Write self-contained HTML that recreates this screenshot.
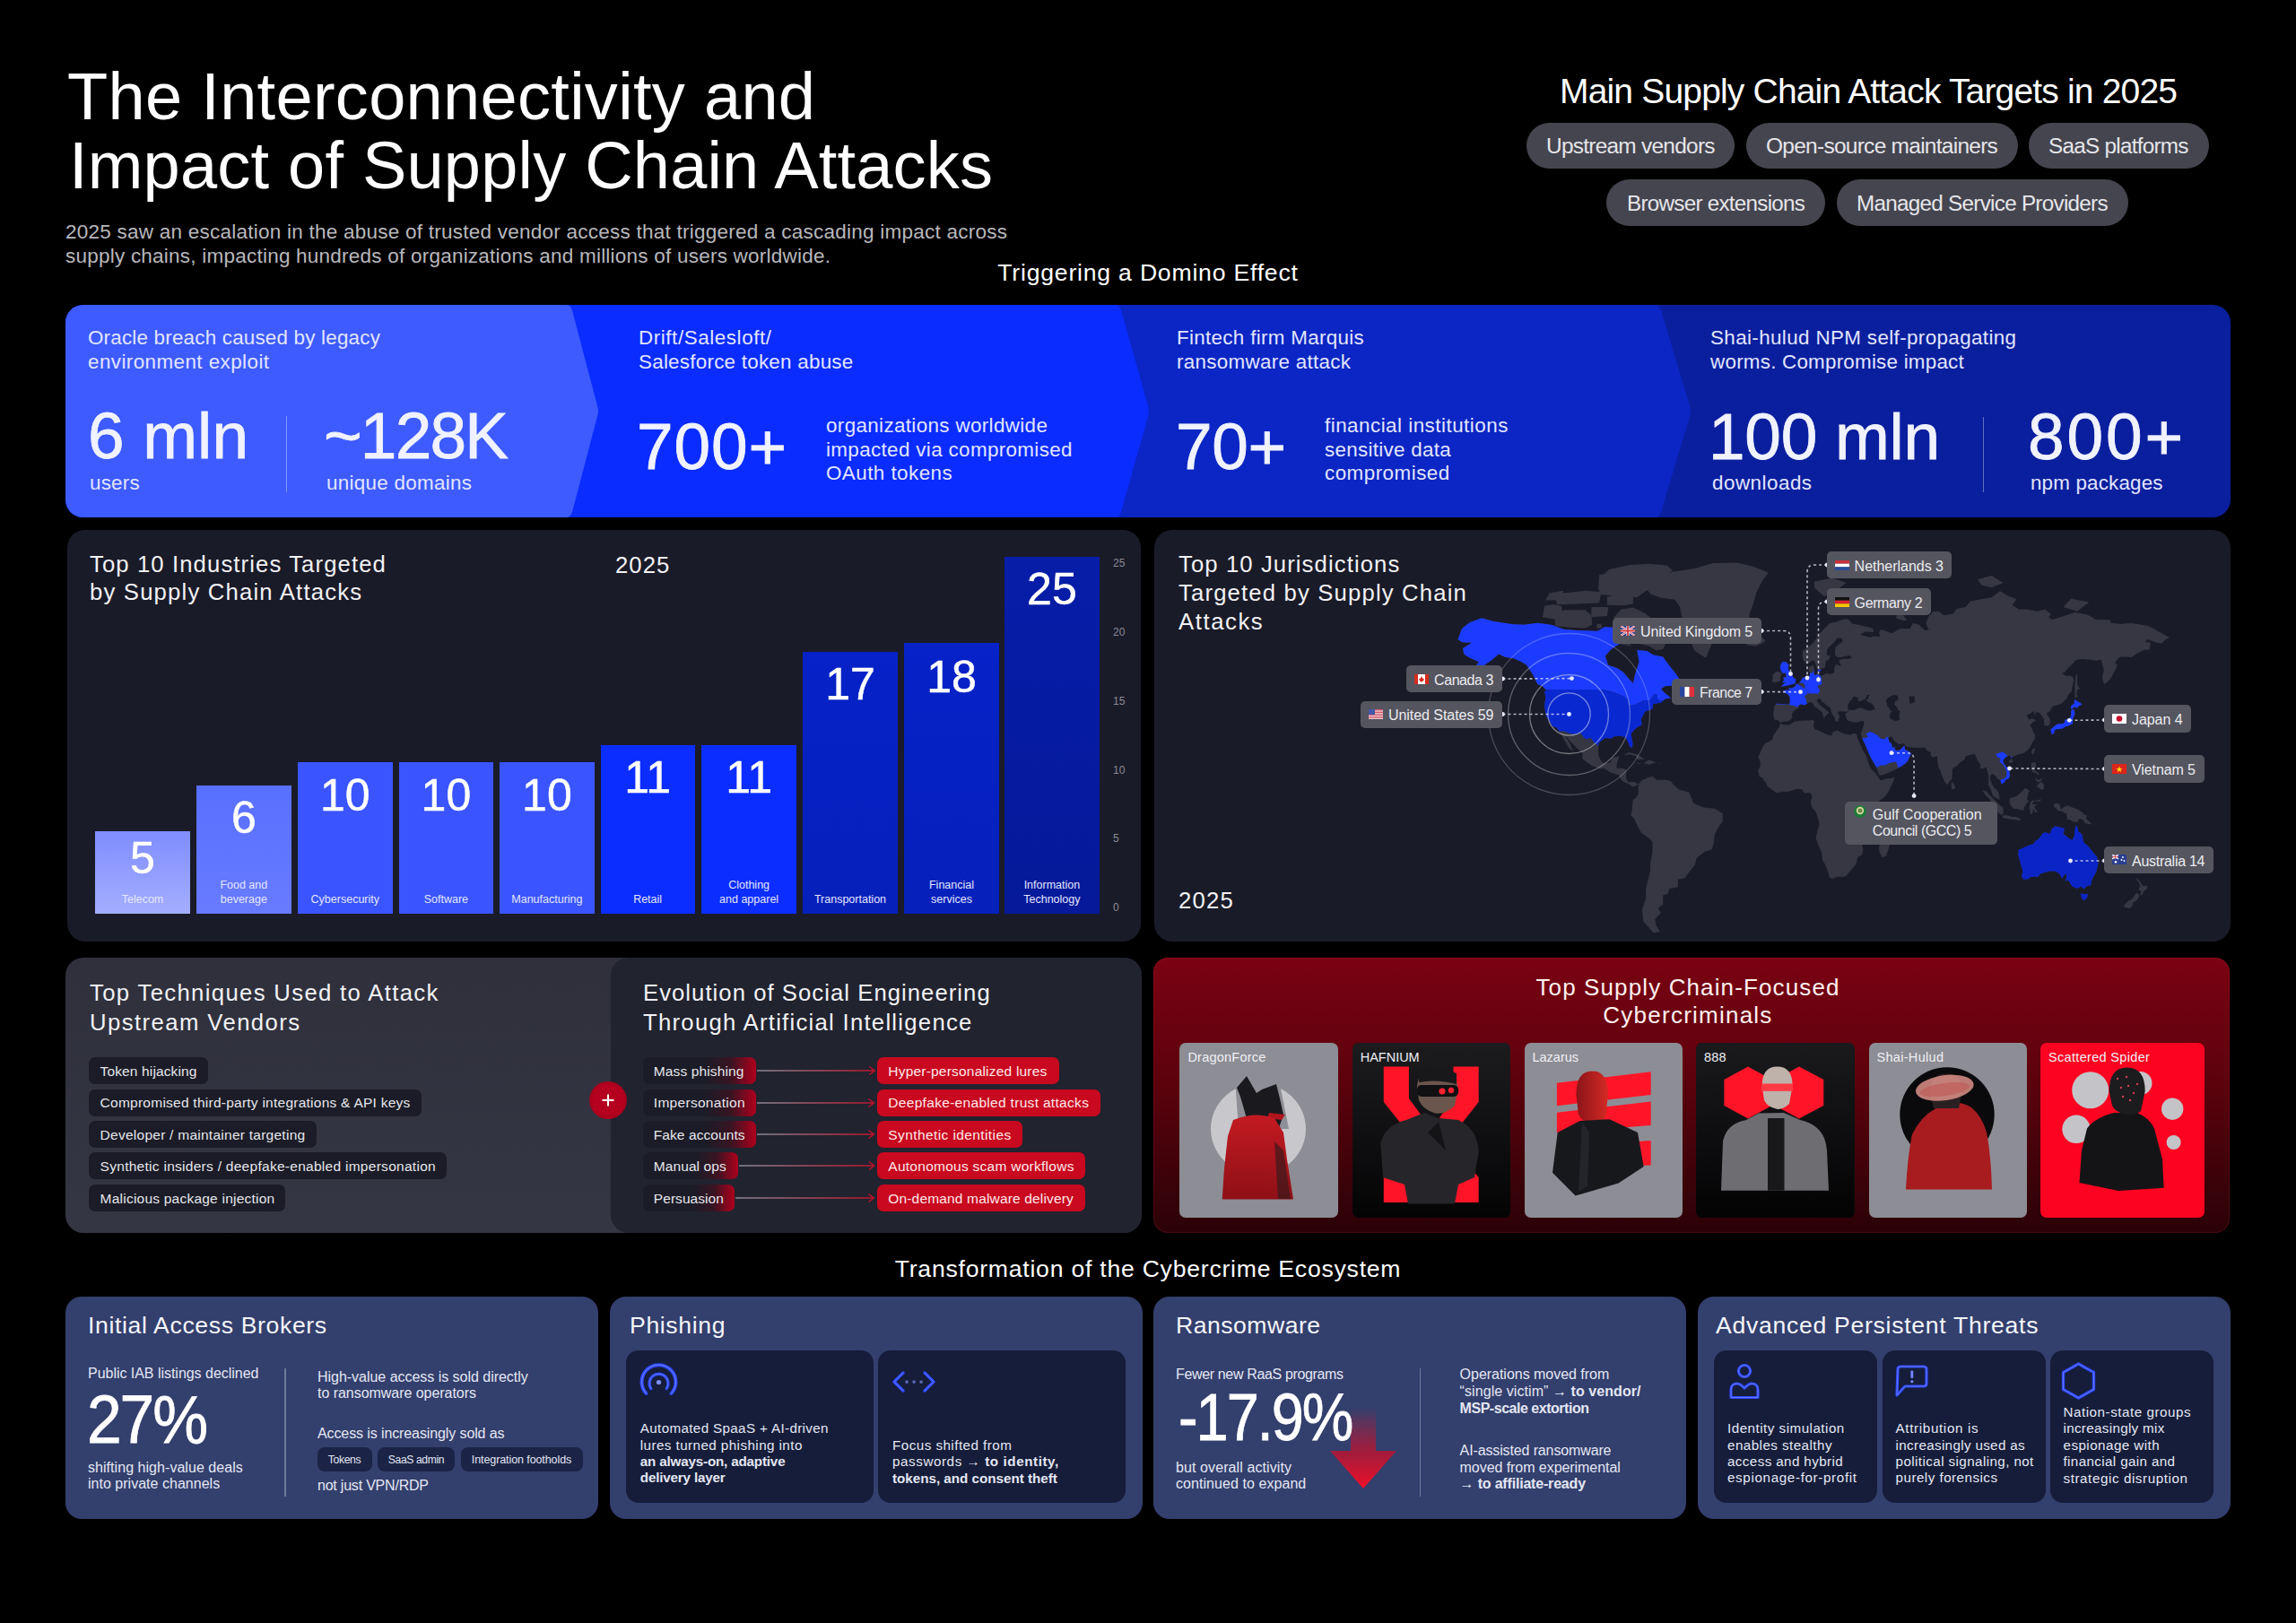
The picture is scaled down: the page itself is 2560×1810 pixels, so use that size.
<!DOCTYPE html>
<html><head><meta charset="utf-8"><style>
html,body{margin:0;padding:0;background:#000;}
body{width:2560px;height:1810px;position:relative;overflow:hidden;font-family:"Liberation Sans",sans-serif;}
.t{position:absolute;white-space:nowrap;}
.r{position:absolute;}
</style></head><body>
<div class="t" style="left:75.0px;top:64.2px;font-size:74px;line-height:88.8px;color:#ffffff;letter-spacing:0.300px;">The Interconnectivity and</div>
<div class="t" style="left:77.0px;top:141.0px;font-size:74px;line-height:88.8px;color:#ffffff;letter-spacing:0.200px;">Impact of Supply Chain Attacks</div>
<div class="t" style="left:73.0px;top:245.3px;font-size:22.5px;line-height:27.0px;color:#b8b8bc;letter-spacing:0.244px;">2025 saw an escalation in the abuse of trusted vendor access that triggered a cascading impact across</div>
<div class="t" style="left:73.0px;top:271.9px;font-size:22.5px;line-height:27.0px;color:#b8b8bc;letter-spacing:0.229px;">supply chains, impacting hundreds of organizations and millions of users worldwide.</div>
<div class="t" style="left:1739.0px;top:79.1px;font-size:39px;line-height:46.8px;color:#ffffff;letter-spacing:-0.826px;">Main Supply Chain Attack Targets in 2025</div>
<div class="r" style="left:1702.0px;top:137.0px;width:232.0px;height:51.0px;background:#45454f;border-radius:26px;"></div>
<div class="t" style="left:1723.6px;top:148.3px;font-size:24.7px;line-height:29.64px;color:#e6e6ea;letter-spacing:-0.741px;transform:scaleX(0.9891);transform-origin:left center;">Upstream vendors</div>
<div class="r" style="left:1947.0px;top:137.0px;width:303.0px;height:51.0px;background:#45454f;border-radius:26px;"></div>
<div class="t" style="left:1968.6px;top:148.3px;font-size:24.7px;line-height:29.64px;color:#e6e6ea;letter-spacing:-0.741px;transform:scaleX(0.9923);transform-origin:left center;">Open-source maintainers</div>
<div class="r" style="left:2262.0px;top:137.0px;width:201.0px;height:51.0px;background:#45454f;border-radius:26px;"></div>
<div class="t" style="left:2284.0px;top:148.3px;font-size:24.7px;line-height:29.64px;color:#e6e6ea;letter-spacing:-0.741px;transform:scaleX(0.9833);transform-origin:left center;">SaaS platforms</div>
<div class="r" style="left:1791.0px;top:200.0px;width:244.0px;height:52.0px;background:#45454f;border-radius:26px;"></div>
<div class="t" style="left:1814.0px;top:211.6px;font-size:24.7px;line-height:29.64px;color:#e6e6ea;letter-spacing:-0.741px;transform:scaleX(0.9808);transform-origin:left center;">Browser extensions</div>
<div class="r" style="left:2048.0px;top:200.0px;width:325.0px;height:52.0px;background:#45454f;border-radius:26px;"></div>
<div class="t" style="left:2070.0px;top:211.6px;font-size:24.7px;line-height:29.64px;color:#e6e6ea;letter-spacing:-0.741px;transform:scaleX(0.9828);transform-origin:left center;">Managed Service Providers</div>
<div class="t" style="left:280.0px;width:2000px;text-align:center;top:289.4px;font-size:26.6px;line-height:31.92px;color:#ffffff;letter-spacing:0.788px;">Triggering a Domino Effect</div>
<div class="r" style="left:73px;top:340px;width:2414px;height:237px;border-radius:20px;overflow:hidden"><svg width="2414" height="237" style="position:absolute;left:0;top:0"><rect width="2414" height="237" fill="#0a1f9e"/><path d="M0 0 H1773 Q1777 0 1779 6 L1811 112.5 Q1813 118.5 1811 124.5 L1779 231 Q1777 237 1773 237 H0 Z" fill="#0b26c4"/><path d="M0 0 H1171 Q1175 0 1177 6 L1207 112.5 Q1209 118.5 1207 124.5 L1177 231 Q1175 237 1171 237 H0 Z" fill="#0a2cff"/><path d="M0 0 H559 Q563 0 565 6 L593 112.5 Q595 118.5 593 124.5 L565 231 Q563 237 559 237 H0 Z" fill="#3d5bfe"/></svg></div>
<div class="t" style="left:98.0px;top:364.4px;font-size:22.4px;line-height:26.88px;color:#e2e5ff;letter-spacing:0.207px;">Oracle breach caused by legacy</div>
<div class="t" style="left:98.0px;top:390.5px;font-size:22.4px;line-height:26.88px;color:#e2e5ff;letter-spacing:0.438px;">environment exploit</div>
<div class="t" style="left:98.0px;top:442.4px;font-size:73px;line-height:87.6px;color:#f0f2ff;letter-spacing:0.125px;-webkit-text-stroke:0.8px currentColor;">6 mln</div>
<div class="t" style="left:100.0px;top:525.8px;font-size:22.4px;line-height:26.88px;color:#e2e5ff;letter-spacing:0.237px;">users</div>
<div class="r" style="left:318.5px;top:464.0px;width:1.5px;height:85.0px;background:rgba(255,255,255,0.35);border-radius:0px;"></div>
<div class="t" style="left:361.0px;top:442.4px;font-size:73px;line-height:87.6px;color:#f0f2ff;letter-spacing:-1.775px;-webkit-text-stroke:0.8px currentColor;">~128K</div>
<div class="t" style="left:364.0px;top:525.8px;font-size:22.4px;line-height:26.88px;color:#e2e5ff;letter-spacing:0.292px;">unique domains</div>
<div class="t" style="left:712.0px;top:364.4px;font-size:22.4px;line-height:26.88px;color:#e2e5ff;letter-spacing:0.574px;">Drift/Salesloft/</div>
<div class="t" style="left:712.0px;top:390.5px;font-size:22.4px;line-height:26.88px;color:#e2e5ff;letter-spacing:0.249px;">Salesforce token abuse</div>
<div class="t" style="left:710.0px;top:454.4px;font-size:73px;line-height:87.6px;color:#f0f2ff;letter-spacing:0.867px;-webkit-text-stroke:0.8px currentColor;">700+</div>
<div class="t" style="left:921.0px;top:462.3px;font-size:22.4px;line-height:26.88px;color:#e2e5ff;letter-spacing:0.359px;">organizations worldwide</div>
<div class="t" style="left:921.0px;top:488.6px;font-size:22.4px;line-height:26.88px;color:#e2e5ff;letter-spacing:0.356px;">impacted via compromised</div>
<div class="t" style="left:921.0px;top:514.9px;font-size:22.4px;line-height:26.88px;color:#e2e5ff;letter-spacing:0.454px;">OAuth tokens</div>
<div class="t" style="left:1312.0px;top:364.4px;font-size:22.4px;line-height:26.88px;color:#e2e5ff;letter-spacing:0.312px;">Fintech firm Marquis</div>
<div class="t" style="left:1312.0px;top:390.5px;font-size:22.4px;line-height:26.88px;color:#e2e5ff;letter-spacing:0.295px;">ransomware attack</div>
<div class="t" style="left:1311.0px;top:454.4px;font-size:73px;line-height:87.6px;color:#f0f2ff;letter-spacing:-0.400px;-webkit-text-stroke:0.8px currentColor;">70+</div>
<div class="t" style="left:1477.0px;top:462.3px;font-size:22.4px;line-height:26.88px;color:#e2e5ff;letter-spacing:0.485px;">financial institutions</div>
<div class="t" style="left:1477.0px;top:488.6px;font-size:22.4px;line-height:26.88px;color:#e2e5ff;letter-spacing:0.285px;">sensitive data</div>
<div class="t" style="left:1477.0px;top:514.9px;font-size:22.4px;line-height:26.88px;color:#e2e5ff;letter-spacing:0.482px;">compromised</div>
<div class="t" style="left:1907.0px;top:364.4px;font-size:22.4px;line-height:26.88px;color:#e2e5ff;letter-spacing:0.374px;">Shai-hulud NPM self-propagating</div>
<div class="t" style="left:1907.1px;top:390.5px;font-size:22.4px;line-height:26.88px;color:#e2e5ff;letter-spacing:0.225px;">worms. Compromise impact</div>
<div class="t" style="left:1905.0px;top:442.9px;font-size:73px;line-height:87.6px;color:#f0f2ff;letter-spacing:-0.283px;-webkit-text-stroke:0.8px currentColor;">100 mln</div>
<div class="t" style="left:1909.0px;top:525.8px;font-size:22.4px;line-height:26.88px;color:#e2e5ff;letter-spacing:0.497px;">downloads</div>
<div class="r" style="left:2210.5px;top:465.0px;width:1.5px;height:84.0px;background:rgba(255,255,255,0.35);border-radius:0px;"></div>
<div class="t" style="left:2261.0px;top:442.9px;font-size:73px;line-height:87.6px;color:#f0f2ff;letter-spacing:2.867px;-webkit-text-stroke:0.8px currentColor;">800+</div>
<div class="t" style="left:2264.0px;top:525.8px;font-size:22.4px;line-height:26.88px;color:#e2e5ff;letter-spacing:0.165px;">npm packages</div>
<div class="r" style="left:75.0px;top:591.0px;width:1197.0px;height:459.0px;background:#1a1b28;border-radius:20px;"></div>
<div class="t" style="left:100.0px;top:614.4px;font-size:25.7px;line-height:30.84px;color:#f2f2f5;letter-spacing:1.104px;">Top 10 Industries Targeted</div>
<div class="t" style="left:100.0px;top:645.4px;font-size:25.7px;line-height:30.84px;color:#f2f2f5;letter-spacing:1.185px;">by Supply Chain Attacks</div>
<div class="t" style="left:686.0px;top:614.7px;font-size:25.7px;line-height:30.84px;color:#f2f2f5;letter-spacing:1.046px;">2025</div>
<div class="r" style="left:105.8px;top:927.0px;width:106.5px;height:92.0px;background:linear-gradient(180deg,#7f8dff,#a4aeff);border-radius:0px;"></div>
<div class="t" style="left:-841.0px;width:2000px;text-align:center;top:926.7px;font-size:50px;line-height:60.0px;color:#ffffff;letter-spacing:0.000px;-webkit-text-stroke:0.5px currentColor;">5</div>
<div class="t" style="left:-841.0px;width:2000px;text-align:center;top:996.2px;font-size:12.5px;line-height:15.0px;color:#e4e6ff;letter-spacing:0.000px;">Telecom</div>
<div class="r" style="left:218.8px;top:875.8px;width:105.9px;height:143.2px;background:linear-gradient(180deg,#5870ff,#687bff);border-radius:0px;"></div>
<div class="t" style="left:-728.2px;width:2000px;text-align:center;top:882.1px;font-size:50px;line-height:60.0px;color:#ffffff;letter-spacing:0.000px;-webkit-text-stroke:0.5px currentColor;">6</div>
<div class="t" style="left:-728.2px;width:2000px;text-align:center;top:980.2px;font-size:12.5px;line-height:15.0px;color:#e4e6ff;letter-spacing:0.000px;">Food and</div>
<div class="t" style="left:-728.2px;width:2000px;text-align:center;top:996.2px;font-size:12.5px;line-height:15.0px;color:#e4e6ff;letter-spacing:0.000px;">beverage</div>
<div class="r" style="left:331.5px;top:849.7px;width:106.5px;height:169.3px;background:#3a55ff;border-radius:0px;"></div>
<div class="t" style="left:-615.2px;width:2000px;text-align:center;top:857.4px;font-size:50px;line-height:60.0px;color:#ffffff;letter-spacing:0.000px;-webkit-text-stroke:0.5px currentColor;">10</div>
<div class="t" style="left:-615.2px;width:2000px;text-align:center;top:996.2px;font-size:12.5px;line-height:15.0px;color:#e4e6ff;letter-spacing:0.000px;">Cybersecurity</div>
<div class="r" style="left:444.5px;top:849.7px;width:105.9px;height:169.3px;background:#3a55ff;border-radius:0px;"></div>
<div class="t" style="left:-502.6px;width:2000px;text-align:center;top:857.4px;font-size:50px;line-height:60.0px;color:#ffffff;letter-spacing:0.000px;-webkit-text-stroke:0.5px currentColor;">10</div>
<div class="t" style="left:-502.6px;width:2000px;text-align:center;top:996.2px;font-size:12.5px;line-height:15.0px;color:#e4e6ff;letter-spacing:0.000px;">Software</div>
<div class="r" style="left:557.0px;top:849.7px;width:105.8px;height:169.3px;background:#3a55ff;border-radius:0px;"></div>
<div class="t" style="left:-390.1px;width:2000px;text-align:center;top:857.4px;font-size:50px;line-height:60.0px;color:#ffffff;letter-spacing:0.000px;-webkit-text-stroke:0.5px currentColor;">10</div>
<div class="t" style="left:-390.1px;width:2000px;text-align:center;top:996.2px;font-size:12.5px;line-height:15.0px;color:#e4e6ff;letter-spacing:0.000px;">Manufacturing</div>
<div class="r" style="left:669.5px;top:830.8px;width:105.3px;height:188.2px;background:#0b2dff;border-radius:0px;"></div>
<div class="t" style="left:-277.9px;width:2000px;text-align:center;top:836.5px;font-size:50px;line-height:60.0px;color:#ffffff;letter-spacing:0.000px;-webkit-text-stroke:0.5px currentColor;">11</div>
<div class="t" style="left:-277.9px;width:2000px;text-align:center;top:996.2px;font-size:12.5px;line-height:15.0px;color:#e4e6ff;letter-spacing:0.000px;">Retail</div>
<div class="r" style="left:781.9px;top:830.8px;width:106.4px;height:188.2px;background:#0b2dff;border-radius:0px;"></div>
<div class="t" style="left:-164.9px;width:2000px;text-align:center;top:836.5px;font-size:50px;line-height:60.0px;color:#ffffff;letter-spacing:0.000px;-webkit-text-stroke:0.5px currentColor;">11</div>
<div class="t" style="left:-164.9px;width:2000px;text-align:center;top:980.2px;font-size:12.5px;line-height:15.0px;color:#e4e6ff;letter-spacing:0.000px;">Clothing</div>
<div class="t" style="left:-164.9px;width:2000px;text-align:center;top:996.2px;font-size:12.5px;line-height:15.0px;color:#e4e6ff;letter-spacing:0.000px;">and apparel</div>
<div class="r" style="left:895.0px;top:727.0px;width:106.0px;height:292.0px;background:linear-gradient(180deg,#0622c8,#0620bb);border-radius:0px;"></div>
<div class="t" style="left:-52.0px;width:2000px;text-align:center;top:733.3px;font-size:50px;line-height:60.0px;color:#ffffff;letter-spacing:0.000px;-webkit-text-stroke:0.5px currentColor;">17</div>
<div class="t" style="left:-52.0px;width:2000px;text-align:center;top:996.2px;font-size:12.5px;line-height:15.0px;color:#e4e6ff;letter-spacing:0.000px;">Transportation</div>
<div class="r" style="left:1008.0px;top:717.0px;width:106.0px;height:302.0px;background:linear-gradient(180deg,#0622c8,#0620bb);border-radius:0px;"></div>
<div class="t" style="left:61.0px;width:2000px;text-align:center;top:725.3px;font-size:50px;line-height:60.0px;color:#ffffff;letter-spacing:0.000px;-webkit-text-stroke:0.5px currentColor;">18</div>
<div class="t" style="left:61.0px;width:2000px;text-align:center;top:980.2px;font-size:12.5px;line-height:15.0px;color:#e4e6ff;letter-spacing:0.000px;">Financial</div>
<div class="t" style="left:61.0px;width:2000px;text-align:center;top:996.2px;font-size:12.5px;line-height:15.0px;color:#e4e6ff;letter-spacing:0.000px;">services</div>
<div class="r" style="left:1120.0px;top:620.5px;width:105.8px;height:398.5px;background:linear-gradient(180deg,#061da8,#05199a);border-radius:0px;"></div>
<div class="t" style="left:172.9px;width:2000px;text-align:center;top:627.4px;font-size:50px;line-height:60.0px;color:#ffffff;letter-spacing:0.000px;-webkit-text-stroke:0.5px currentColor;">25</div>
<div class="t" style="left:172.9px;width:2000px;text-align:center;top:980.2px;font-size:12.5px;line-height:15.0px;color:#e4e6ff;letter-spacing:0.000px;">Information</div>
<div class="t" style="left:172.9px;width:2000px;text-align:center;top:996.2px;font-size:12.5px;line-height:15.0px;color:#e4e6ff;letter-spacing:0.000px;">Technology</div>
<div class="t" style="left:1241.0px;top:621.1px;font-size:12px;line-height:14.4px;color:#8a8a96;letter-spacing:0.000px;">25</div>
<div class="t" style="left:1241.0px;top:697.9px;font-size:12px;line-height:14.4px;color:#8a8a96;letter-spacing:0.000px;">20</div>
<div class="t" style="left:1241.0px;top:774.7px;font-size:12px;line-height:14.4px;color:#8a8a96;letter-spacing:0.000px;">15</div>
<div class="t" style="left:1241.0px;top:851.5px;font-size:12px;line-height:14.4px;color:#8a8a96;letter-spacing:0.000px;">10</div>
<div class="t" style="left:1241.0px;top:928.3px;font-size:12px;line-height:14.4px;color:#8a8a96;letter-spacing:0.000px;">5</div>
<div class="t" style="left:1241.0px;top:1005.1px;font-size:12px;line-height:14.4px;color:#8a8a96;letter-spacing:0.000px;">0</div>
<div class="r" style="left:1286.5px;top:591.0px;width:1200.0px;height:459.0px;background:#1a1b28;border-radius:20px;"></div>
<div class="t" style="left:1314.0px;top:614.4px;font-size:25.7px;line-height:30.84px;color:#f2f2f5;letter-spacing:1.088px;">Top 10 Jurisdictions</div>
<div class="t" style="left:1314.0px;top:646.2px;font-size:25.7px;line-height:30.84px;color:#f2f2f5;letter-spacing:1.161px;">Targeted by Supply Chain</div>
<div class="t" style="left:1314.0px;top:677.7px;font-size:25.7px;line-height:30.84px;color:#f2f2f5;letter-spacing:1.577px;">Attacks</div>
<div class="t" style="left:1314.0px;top:988.7px;font-size:25.7px;line-height:30.84px;color:#f2f2f5;letter-spacing:1.243px;">2025</div>
<svg width="1200" height="459" style="position:absolute;left:1286.5px;top:591px"><path d="M540.6 261.3 L537.7 259.9 L542.1 260.1 L540.6 261.3Z M565.0 260.8 L562.3 259.6 L565.9 259.9 L565.0 260.8Z M546.3 260.6 L546.1 259.9 L551.7 256.2 L559.7 259.4 L556.1 260.3 L552.8 261.8 L546.3 260.6Z M530.6 250.5 L522.8 251.3 L529.5 248.1 L538.3 250.0 L546.8 255.5 L539.0 256.2 L537.2 252.3 L530.6 250.5Z M411.8 105.8 L427.3 103.7 L442.9 105.8 L456.2 110.8 L471.7 112.0 L493.9 112.8 L502.8 107.9 L511.7 108.7 L520.6 112.0 L529.5 116.8 L526.3 120.0 L527.2 119.9 L531.7 129.5 L518.6 127.1 L509.5 133.1 L502.8 140.4 L506.2 150.8 L516.1 154.1 L522.8 158.4 L528.8 165.6 L533.9 170.9 L536.1 160.7 L540.6 147.3 L538.3 133.9 L549.4 135.0 L556.1 139.3 L567.2 141.4 L573.9 150.8 L580.5 159.1 L587.2 168.7 L585.0 170.3 L580.5 173.4 L569.4 174.3 L565.0 177.4 L568.3 181.0 L576.1 187.6 L569.4 188.5 L565.0 192.8 L556.1 194.3 L555.7 199.4 L547.2 202.7 L542.8 211.0 L543.7 217.2 L537.2 220.9 L531.7 227.0 L533.5 238.5 L532.8 243.1 L530.1 241.6 L527.7 235.5 L525.0 230.9 L519.5 229.8 L512.8 230.3 L509.5 232.7 L502.8 231.9 L495.7 237.3 L495.0 246.1 L495.5 252.3 L498.4 258.4 L501.7 260.3 L508.4 259.6 L510.6 254.0 L518.4 252.3 L515.7 260.8 L515.5 265.7 L522.8 265.9 L526.4 267.6 L525.9 277.0 L528.3 281.3 L535.0 281.0 L539.9 283.6 L537.5 285.3 L533.5 286.5 L530.1 284.1 L521.7 280.1 L517.2 272.9 L508.4 270.5 L501.7 265.7 L497.3 266.4 L487.3 262.8 L477.3 255.2 L477.3 249.0 L470.6 242.8 L462.4 234.2 L456.6 226.7 L460.6 233.4 L464.0 239.8 L466.6 246.1 L468.4 248.3 L462.9 244.1 L458.4 236.5 L454.4 229.6 L451.5 224.4 L448.4 220.4 L443.8 218.8 L440.7 213.2 L436.9 207.2 L435.6 201.3 L435.1 195.7 L436.4 186.1 L434.7 179.8 L438.0 180.1 L432.9 174.3 L427.3 171.9 L421.8 160.7 L415.1 150.8 L409.6 147.3 L400.7 143.2 L391.8 142.1 L384.0 138.6 L376.3 144.9 L369.6 149.7 L363.0 154.1 L351.9 159.1 L346.3 160.7 L356.3 155.1 L361.8 147.0 L351.9 142.8 L345.2 138.6 L344.1 132.0 L354.1 125.7 L343.0 125.3 L338.5 121.9 L343.0 109.9 L351.9 102.9 L365.2 98.2 L378.5 102.0 L398.5 105.0 L411.8 105.8Z M573.9 116.8 L570.5 125.7 L567.2 133.1 L559.4 134.2 L551.7 129.5 L538.3 126.4 L545.0 116.8 L548.3 112.0 L533.9 104.6 L520.6 103.3 L511.7 98.2 L520.6 88.4 L533.9 86.6 L547.2 92.9 L556.1 100.3 L563.9 109.9 L573.9 116.8Z M498.4 104.6 L499.5 109.1 L493.9 109.9 L492.8 105.4 L498.4 104.6Z M445.1 82.9 L454.0 84.7 L454.8 90.6 L458.4 89.3 L469.5 89.3 L480.6 89.3 L487.3 95.1 L487.3 86.1 L506.2 86.1 L505.0 96.0 L487.5 97.3 L488.4 105.8 L480.6 109.5 L462.9 108.7 L447.3 107.1 L446.2 98.7 L445.1 99.5 L432.9 97.3 L435.1 84.7 L445.1 82.9Z M471.7 82.4 L449.5 83.3 L447.9 78.3 L436.2 78.6 L440.7 70.3 L456.2 67.8 L455.6 70.6 L480.6 67.8 L496.2 69.1 L496.2 66.6 L495.0 66.8 L496.2 49.8 L501.1 49.4 L507.3 44.1 L529.5 38.9 L551.7 37.7 L571.6 39.5 L578.3 45.3 L574.4 48.3 L578.3 46.4 L600.5 43.5 L622.7 37.1 L649.3 36.5 L667.1 40.6 L684.9 47.5 L678.2 56.3 L671.5 69.3 L668.2 81.5 L663.8 92.9 L662.7 101.6 L656.0 108.7 L640.5 112.0 L631.6 120.7 L622.7 123.8 L618.3 135.0 L614.9 142.8 L609.4 139.3 L602.7 135.0 L598.3 125.7 L595.0 118.0 L592.7 107.9 L598.3 101.6 L588.3 97.3 L586.1 86.1 L580.5 77.7 L565.0 75.7 L553.9 71.8 L549.5 66.9 L538.3 75.2 L533.9 74.9 L533.9 82.4 L522.8 84.3 L505.0 83.8 L505.0 74.3 L511.9 73.4 L497.9 72.0 L496.2 81.5 L471.7 82.4Z M576.1 280.1 L578.3 283.6 L585.0 289.5 L596.1 292.4 L599.4 299.5 L600.5 303.7 L603.8 306.1 L612.7 309.6 L624.9 310.8 L633.8 316.2 L633.8 325.0 L628.7 332.1 L624.9 339.3 L623.8 349.0 L621.6 356.4 L613.8 358.8 L604.9 365.8 L602.7 374.0 L596.1 381.7 L591.6 388.3 L583.8 389.7 L583.8 398.3 L573.9 400.5 L572.8 405.5 L567.2 407.5 L567.2 417.5 L561.7 421.9 L565.0 427.3 L558.3 434.0 L559.4 440.2 L563.9 448.3 L556.1 449.3 L551.7 443.4 L545.4 437.1 L543.9 423.4 L547.9 411.7 L548.3 399.1 L552.8 381.7 L553.2 371.4 L555.4 358.8 L555.4 347.8 L551.7 344.1 L542.8 337.6 L538.3 329.2 L535.0 322.1 L531.2 317.9 L532.8 311.9 L533.2 306.1 L533.7 301.3 L536.1 299.5 L539.5 294.7 L539.7 288.4 L539.9 283.6 L543.9 278.9 L551.7 275.8 L556.1 275.3 L560.5 278.9 L569.4 278.6 L576.1 280.1Z M811.4 365.1 L808.5 358.8 L808.1 355.1 L810.1 345.3 L810.3 342.2 L814.7 340.5 L816.9 336.4 L820.9 332.1 L823.6 340.5 L821.4 346.6 L819.2 353.9 L815.8 363.8 L811.4 365.1Z M965.7 324.2 L957.9 323.1 L951.3 322.1 L946.8 321.2 L945.0 319.7 L947.9 317.9 L951.9 318.6 L956.8 320.0 L961.5 320.0 L965.7 322.1 L965.7 324.2Z M946.8 311.5 L946.4 317.4 L943.5 317.4 L938.6 313.1 L934.6 306.1 L931.3 300.2 L926.8 295.5 L923.1 290.5 L927.9 291.4 L930.8 295.2 L934.6 299.0 L941.9 306.1 L946.4 309.6 L946.8 311.5Z M719.3 212.9 L724.8 212.4 L730.4 212.6 L734.1 211.8 L736.1 213.7 L734.8 219.1 L737.0 222.5 L740.4 223.6 L745.9 226.2 L750.3 228.3 L755.0 229.6 L757.0 224.9 L761.5 223.6 L768.1 227.0 L775.9 228.5 L779.2 227.0 L783.2 227.5 L783.9 231.4 L786.5 238.0 L788.3 241.6 L790.3 246.3 L793.2 250.5 L794.3 253.5 L796.7 260.8 L798.1 264.5 L800.3 267.4 L803.6 270.5 L805.8 273.4 L807.6 276.2 L809.2 278.9 L812.5 278.6 L816.9 277.2 L821.4 277.0 L825.2 275.8 L824.7 278.9 L821.4 286.0 L818.1 292.9 L813.6 298.3 L808.1 302.5 L803.9 307.7 L800.7 310.8 L798.5 315.5 L798.7 320.9 L799.9 327.3 L801.4 332.1 L801.4 339.3 L798.1 344.1 L792.5 348.3 L789.2 351.4 L790.3 356.4 L789.2 362.6 L784.3 365.1 L783.7 367.6 L782.5 372.7 L779.2 376.5 L775.9 380.4 L771.4 385.7 L768.1 387.0 L761.5 386.7 L755.9 389.1 L752.6 387.5 L751.9 383.8 L750.3 379.1 L748.1 373.0 L745.2 368.9 L743.7 358.4 L741.0 352.7 L737.7 344.1 L739.2 335.7 L741.5 329.2 L740.8 324.5 L738.8 317.9 L737.0 313.6 L733.7 310.3 L731.9 305.6 L732.4 301.3 L733.3 298.3 L732.6 294.7 L730.4 292.9 L727.7 293.3 L724.8 293.6 L722.4 289.5 L719.3 288.8 L715.5 289.1 L711.5 290.5 L706.4 292.1 L700.4 291.7 L694.8 293.3 L690.4 291.0 L687.1 288.4 L684.0 286.2 L682.0 281.7 L679.3 279.1 L678.0 276.5 L674.2 274.6 L674.4 271.7 L672.9 268.8 L674.6 265.7 L675.8 262.1 L675.3 257.2 L673.5 253.5 L674.9 249.8 L677.1 244.8 L679.1 241.0 L682.2 237.3 L686.0 236.0 L689.7 232.9 L690.0 229.6 L696.4 220.4 L698.4 215.6 L701.5 217.2 L706.4 217.5 L708.6 216.9 L713.7 213.7 L719.3 212.9Z M888.7 283.6 L889.1 280.5 L891.8 283.9 L893.1 286.5 L892.2 288.8 L889.5 289.5 L888.7 286.0 L888.7 283.6Z M954.8 255.7 L957.9 256.4 L956.1 260.1 L953.0 259.6 L952.8 257.9 L954.8 255.7Z M706.6 183.7 L705.1 182.5 L701.7 181.3 L701.3 179.2 L704.8 178.6 L708.2 178.9 L707.3 175.9 L708.6 175.9 L708.8 176.8 L711.9 175.9 L714.8 174.3 L715.1 172.5 L717.0 171.6 L718.6 170.9 L719.5 170.3 L721.5 167.5 L722.2 165.6 L724.8 164.0 L727.3 163.3 L730.6 162.7 L731.0 161.4 L730.8 159.1 L729.7 156.5 L729.9 152.8 L732.6 151.8 L735.0 150.1 L734.8 151.4 L735.9 154.8 L735.5 158.1 L735.7 160.4 L736.4 162.0 L739.2 161.1 L743.0 162.7 L745.9 161.7 L749.2 160.1 L752.8 160.4 L755.5 160.4 L758.6 158.4 L758.1 156.5 L758.3 153.5 L759.5 150.8 L761.5 150.1 L765.2 152.1 L765.4 149.7 L763.4 147.3 L763.7 144.9 L768.1 143.9 L774.1 143.9 L778.1 142.5 L775.2 140.0 L770.3 140.7 L765.9 141.8 L762.1 142.1 L759.2 140.0 L758.8 136.4 L759.2 131.3 L762.6 128.3 L767.4 124.5 L767.7 123.0 L765.9 120.7 L761.5 120.3 L758.8 124.5 L752.6 130.2 L749.9 134.2 L749.9 139.6 L754.1 140.7 L752.1 144.6 L748.8 146.3 L748.4 149.4 L747.9 153.5 L743.9 154.5 L743.2 157.1 L740.4 157.8 L739.2 154.8 L738.1 151.4 L736.8 148.4 L735.9 146.0 L733.7 145.6 L729.3 148.7 L726.2 148.7 L723.7 145.6 L722.6 140.4 L723.0 135.0 L729.7 130.2 L735.0 125.7 L738.6 120.7 L741.5 116.0 L747.0 109.9 L752.6 104.6 L760.3 102.5 L768.1 99.5 L773.7 99.5 L778.1 104.6 L784.8 105.8 L794.8 107.9 L801.4 109.9 L802.5 114.0 L792.5 113.6 L787.0 116.8 L798.1 119.9 L801.4 118.4 L809.2 119.1 L808.1 114.0 L810.3 110.8 L822.5 115.2 L830.3 110.8 L833.6 109.9 L842.5 109.9 L845.8 104.1 L852.5 105.4 L859.1 112.0 L863.6 111.2 L860.2 104.6 L863.6 96.0 L869.1 90.7 L874.7 91.1 L880.2 95.1 L890.2 93.8 L894.7 88.0 L904.6 86.1 L910.2 79.6 L922.4 77.2 L933.5 75.2 L943.0 68.3 L951.3 73.3 L961.2 77.2 L956.8 83.8 L963.5 88.4 L973.5 88.4 L984.6 90.7 L993.4 88.4 L999.7 93.8 L997.4 97.3 L1001.2 99.9 L1011.2 96.9 L1022.3 93.3 L1026.7 92.0 L1040.1 94.2 L1050.1 99.9 L1065.6 100.3 L1066.7 103.7 L1077.8 105.0 L1088.9 103.7 L1106.7 106.7 L1113.3 109.5 L1123.3 115.2 L1132.2 119.9 L1127.8 121.9 L1123.3 126.4 L1117.8 125.7 L1107.8 121.9 L1104.4 124.9 L1111.1 125.7 L1109.3 133.5 L1103.3 133.9 L1094.4 138.6 L1090.0 142.1 L1083.3 141.4 L1077.8 141.4 L1075.1 142.8 L1071.1 148.4 L1073.8 150.1 L1072.2 155.1 L1070.0 159.1 L1066.3 165.6 L1062.7 169.4 L1058.9 171.9 L1056.9 164.0 L1058.9 156.5 L1057.4 151.1 L1055.6 144.6 L1050.1 146.0 L1047.8 145.3 L1041.2 144.6 L1034.5 143.9 L1027.8 144.9 L1023.4 149.7 L1019.0 154.1 L1015.2 158.4 L1012.3 160.1 L1016.8 163.0 L1021.2 162.4 L1024.5 164.6 L1025.4 167.2 L1023.6 175.0 L1023.0 179.5 L1019.2 184.0 L1016.8 188.5 L1011.9 193.4 L1005.7 195.4 L1002.1 196.8 L999.7 199.7 L999.2 201.6 L994.8 204.4 L996.1 206.9 L998.1 209.6 L999.0 213.7 L998.3 217.5 L994.6 218.8 L992.3 217.7 L991.9 211.0 L989.4 206.9 L987.4 204.4 L983.7 202.7 L981.5 206.9 L980.8 201.9 L976.8 204.7 L972.8 206.6 L973.5 208.3 L975.2 211.3 L979.5 210.2 L983.4 212.4 L979.0 214.8 L976.3 218.3 L979.0 221.7 L980.1 225.7 L982.1 228.8 L981.9 232.9 L979.0 237.3 L977.5 240.3 L975.7 243.6 L972.3 246.8 L970.1 248.8 L965.7 250.0 L963.5 250.3 L959.7 252.0 L956.8 252.8 L955.7 254.7 L954.6 252.0 L951.3 252.3 L948.6 254.0 L946.8 256.4 L946.4 258.9 L947.9 261.3 L950.2 264.5 L952.4 266.9 L953.5 269.3 L953.9 274.1 L953.0 277.0 L949.0 278.9 L947.9 281.3 L944.6 283.4 L943.5 278.9 L940.2 277.7 L939.1 275.3 L936.8 273.6 L934.6 271.7 L931.9 274.6 L932.4 279.3 L934.2 284.1 L936.8 287.7 L939.1 289.5 L941.3 293.1 L942.8 299.9 L941.3 300.6 L936.8 297.8 L934.6 295.5 L932.4 288.4 L929.7 284.8 L930.2 280.1 L930.2 274.1 L928.4 268.1 L927.9 264.5 L923.5 266.2 L920.8 265.7 L921.3 262.1 L918.0 257.2 L916.4 253.5 L914.6 249.8 L912.4 250.5 L909.1 251.0 L904.6 252.3 L903.5 256.0 L899.1 258.9 L894.7 263.3 L892.0 264.5 L889.8 266.9 L889.8 272.9 L888.9 278.9 L887.5 279.3 L885.3 282.4 L883.6 284.6 L880.9 280.1 L878.0 274.1 L876.9 269.3 L874.7 265.7 L873.6 260.8 L873.3 257.2 L873.1 252.3 L868.0 253.7 L864.7 250.3 L866.9 249.5 L864.2 247.3 L861.3 246.1 L859.1 242.6 L854.7 243.1 L848.0 243.1 L843.6 242.6 L838.9 241.8 L835.8 238.3 L830.3 239.0 L825.6 236.2 L823.8 232.9 L822.5 230.6 L819.4 230.9 L818.1 232.1 L819.4 236.0 L822.1 238.5 L822.7 241.6 L824.3 243.6 L825.4 241.0 L825.8 244.8 L826.9 246.1 L831.4 245.6 L834.7 242.3 L836.5 240.3 L836.9 244.8 L841.4 247.1 L844.3 249.8 L842.5 252.3 L839.6 258.4 L836.9 260.8 L833.6 263.3 L826.9 266.9 L819.2 270.5 L811.4 273.4 L808.1 273.6 L806.5 269.3 L804.7 263.7 L801.4 258.4 L798.1 252.3 L794.8 244.8 L792.5 239.0 L789.0 232.1 L787.6 227.5 L788.1 227.0 L789.6 221.7 L791.0 217.7 L791.4 213.4 L788.1 212.9 L783.7 214.8 L779.2 214.3 L773.7 212.9 L772.1 211.0 L770.3 205.5 L772.6 203.3 L775.9 201.1 L770.6 203.0 L769.2 202.2 L764.1 202.2 L761.7 203.3 L764.8 209.1 L763.0 209.6 L762.6 213.7 L759.2 212.9 L758.6 208.8 L755.7 205.2 L754.8 201.9 L753.7 198.5 L749.7 195.7 L744.8 191.4 L743.0 189.3 L741.7 187.9 L738.8 189.0 L739.2 191.4 L742.6 195.7 L747.0 198.8 L749.2 201.3 L752.6 203.6 L749.7 206.3 L747.5 209.1 L746.4 209.6 L744.8 203.6 L739.2 199.1 L735.9 197.1 L734.1 193.1 L731.0 191.7 L728.2 193.4 L724.8 195.4 L721.5 194.3 L718.4 195.4 L718.6 198.5 L713.5 201.3 L710.8 205.5 L711.5 208.3 L710.4 210.7 L707.1 213.2 L700.0 214.3 L698.2 215.1 L694.8 211.8 L691.7 212.4 L690.4 207.7 L690.4 204.1 L691.5 195.7 L693.7 193.7 L698.2 194.0 L703.1 194.3 L707.5 194.5 L708.4 194.0 L708.8 190.8 L708.6 186.4 L706.6 183.7Z M803.9 199.7 L801.4 195.1 L798.1 192.8 L794.8 191.1 L793.2 189.3 L795.6 188.5 L796.3 186.1 L798.1 183.4 L794.8 184.3 L792.5 189.0 L789.2 189.9 L785.9 191.4 L783.7 189.3 L785.9 188.5 L782.5 186.4 L779.7 185.5 L777.7 189.3 L775.0 191.4 L773.2 195.7 L773.7 200.5 L776.3 200.8 L780.3 201.1 L784.8 198.8 L789.2 198.5 L792.5 200.5 L796.5 201.6 L800.3 201.3 L803.9 199.7Z M820.1 207.2 L820.3 210.2 L822.9 211.5 L826.5 213.2 L831.2 211.5 L830.5 205.5 L831.6 201.9 L828.9 200.8 L828.3 197.7 L825.4 195.1 L825.8 191.4 L829.6 189.0 L829.2 184.9 L824.7 184.0 L820.3 185.8 L816.9 188.2 L815.8 191.1 L816.9 194.0 L817.2 196.0 L819.4 199.1 L820.7 201.1 L822.9 203.0 L821.2 203.3 L820.1 207.2Z M848.0 191.4 L847.6 185.5 L841.4 185.5 L842.5 194.3 L848.0 191.4Z M585.0 170.3 L588.3 170.0 L594.7 182.5 L587.6 184.3 L579.9 182.2 L585.0 170.3Z M693.1 158.4 L694.8 158.1 L697.5 158.4 L699.1 160.4 L698.0 164.0 L698.2 168.1 L697.1 168.4 L692.6 170.3 L688.6 169.0 L689.7 164.6 L689.3 161.7 L693.1 158.4Z M701.3 164.6 L704.8 164.3 L704.4 161.7 L704.2 159.4 L700.6 159.8 L699.1 158.1 L697.7 153.5 L698.6 149.7 L700.4 147.0 L704.2 147.0 L707.5 150.4 L706.8 155.8 L708.2 157.5 L711.1 162.0 L712.2 164.3 L715.3 166.5 L714.6 171.2 L709.3 172.8 L703.7 174.0 L698.8 174.7 L702.2 171.2 L704.4 170.6 L700.0 169.7 L702.2 167.8 L701.3 164.6Z M661.1 128.3 L658.2 121.9 L662.7 118.4 L676.0 118.0 L681.5 123.8 L678.2 126.4 L670.4 129.8 L661.1 128.3Z M863.6 72.8 L846.9 75.7 L838.0 83.8 L833.6 92.9 L839.2 100.8 L834.7 101.2 L826.9 98.2 L829.2 91.6 L831.4 83.8 L842.5 76.7 L858.0 71.8 L863.6 72.8Z M735.9 64.2 L735.9 57.4 L755.9 53.6 L771.4 59.0 L758.1 69.3 L747.0 74.3 L735.9 64.2Z M918.0 55.2 L933.5 50.9 L946.8 59.0 L933.5 64.2 L922.4 61.6 L918.0 55.2Z M1090.2 420.1 L1087.1 422.2 L1081.1 420.4 L1081.8 418.1 L1085.1 414.6 L1090.0 411.7 L1092.7 408.0 L1094.9 404.7 L1098.4 406.6 L1097.6 409.4 L1095.1 413.4 L1091.6 415.5 L1090.2 420.1Z M1033.8 409.7 L1032.7 405.2 L1036.7 406.3 L1040.7 405.8 L1040.5 409.4 L1038.5 412.3 L1035.6 413.1 L1033.8 409.7Z M1104.2 402.2 L1100.7 407.7 L1099.1 406.6 L1100.4 403.3 L1097.3 401.1 L1099.1 397.8 L1098.2 393.7 L1095.6 390.5 L1094.9 388.1 L1098.4 391.3 L1101.1 395.0 L1102.2 396.7 L1107.8 396.9 L1106.4 401.1 L1104.2 402.2Z M982.8 346.6 L985.7 344.9 L989.0 340.5 L991.7 337.4 L994.8 337.4 L998.8 338.8 L1000.5 333.5 L1004.1 330.4 L1007.9 330.9 L1011.6 332.3 L1015.2 332.8 L1013.4 338.8 L1017.4 341.7 L1021.2 345.1 L1024.1 345.3 L1025.9 340.5 L1026.3 334.0 L1027.8 329.0 L1029.4 331.6 L1030.3 336.2 L1032.3 337.6 L1034.1 339.3 L1035.4 344.1 L1036.5 348.8 L1040.1 351.4 L1042.7 354.4 L1045.2 357.6 L1046.7 359.6 L1049.8 363.1 L1051.4 365.1 L1052.5 371.4 L1051.6 376.5 L1050.1 381.7 L1047.4 386.5 L1044.9 391.8 L1044.5 396.1 L1040.1 397.2 L1036.3 400.5 L1033.2 397.5 L1029.4 400.0 L1023.6 397.8 L1021.6 394.8 L1019.0 390.5 L1015.6 391.5 L1016.8 388.3 L1017.4 383.3 L1014.5 385.2 L1012.3 389.1 L1009.4 383.8 L1006.8 381.7 L1003.0 380.4 L997.9 380.7 L991.2 382.5 L987.4 384.1 L985.7 386.7 L977.9 386.7 L973.5 389.7 L969.0 389.7 L967.0 385.9 L968.4 381.2 L966.8 375.3 L964.6 367.6 L963.2 362.6 L963.7 356.4 L967.9 355.1 L971.2 353.2 L975.7 351.4 L980.1 350.2 L982.8 346.6Z M1024.5 309.8 L1029.0 311.5 L1035.0 315.0 L1036.7 317.4 L1039.6 318.3 L1038.9 322.1 L1043.4 326.1 L1045.6 328.5 L1042.3 328.1 L1037.8 327.3 L1035.6 323.3 L1031.2 321.9 L1029.6 325.4 L1026.7 325.7 L1024.5 325.2 L1020.1 322.8 L1017.9 323.5 L1017.4 316.7 L1012.3 314.1 L1007.9 313.1 L1004.5 310.3 L1002.3 306.8 L1005.7 304.6 L1009.4 306.1 L1011.2 311.5 L1014.5 308.9 L1017.6 307.2 L1024.5 309.8Z M989.0 300.2 L987.4 302.8 L981.2 302.5 L978.6 305.3 L981.2 306.1 L985.2 305.8 L981.2 308.2 L982.8 311.9 L985.2 314.3 L982.3 315.3 L980.1 310.8 L979.0 316.7 L976.8 316.7 L976.6 311.9 L975.2 310.3 L977.2 303.2 L978.6 301.8 L984.6 301.6 L989.0 300.2Z M971.2 287.4 L976.3 291.4 L974.6 293.1 L973.0 301.3 L975.7 301.6 L972.3 305.6 L970.1 309.6 L969.0 312.7 L965.7 311.9 L962.4 311.2 L957.9 310.8 L955.7 307.9 L953.9 304.9 L953.5 299.5 L955.0 298.8 L958.6 298.0 L962.4 296.2 L967.9 291.2 L971.2 287.4Z M986.8 288.4 L984.6 286.0 L982.3 287.2 L985.7 283.4 L989.4 280.8 L992.3 284.8 L991.7 288.4 L989.9 290.0 L986.8 288.4Z M982.3 276.2 L985.7 278.9 L990.1 277.0 L989.0 280.1 L985.7 281.3 L983.0 279.6 L982.3 276.2Z M986.3 273.4 L982.3 271.0 L979.2 270.0 L977.9 265.2 L977.9 259.6 L982.8 259.6 L983.0 264.5 L981.2 268.1 L986.8 271.7 L986.3 273.4Z M979.2 244.6 L982.1 243.1 L981.2 247.8 L979.7 251.0 L978.1 248.6 L979.2 244.6Z M1015.2 213.7 L1015.2 211.8 L1019.0 211.0 L1021.4 208.8 L1022.3 205.5 L1022.1 202.7 L1023.0 200.8 L1025.4 200.2 L1026.1 202.7 L1026.5 205.5 L1024.7 208.8 L1024.1 212.4 L1024.1 216.1 L1021.9 217.2 L1020.1 218.0 L1018.3 218.8 L1015.4 219.6 L1012.3 221.7 L1010.8 221.5 L1007.9 222.2 L1005.9 222.2 L1004.3 222.8 L1003.0 227.2 L1000.5 227.7 L999.4 222.2 L1000.8 221.5 L1002.1 220.4 L1003.4 218.8 L1007.2 216.4 L1013.4 215.9 L1015.2 213.7Z M1029.0 191.1 L1032.3 192.8 L1034.3 194.8 L1030.7 196.3 L1029.6 198.5 L1025.2 197.4 L1024.3 199.1 L1022.3 199.9 L1021.9 197.4 L1023.4 194.8 L1025.6 194.3 L1026.1 188.7 L1029.0 191.1Z M1029.0 167.2 L1029.4 172.8 L1032.3 178.3 L1029.4 177.1 L1028.3 183.4 L1030.1 186.1 L1026.7 187.0 L1026.5 184.6 L1026.3 178.0 L1026.7 168.7 L1027.6 161.4 L1029.4 161.7 L1029.0 167.2Z M1042.3 80.5 L1029.0 90.7 L1013.4 86.1 L1022.3 76.7 L1042.3 80.5Z " fill="#363742"/><path d="M343.0 109.9 L351.9 102.9 L365.2 98.2 L378.5 102.0 L398.5 105.0 L411.8 105.8 L427.3 103.7 L442.9 105.8 L456.2 110.8 L471.7 112.0 L493.9 112.8 L502.8 107.9 L511.7 108.7 L520.6 112.0 L529.5 116.8 L520.6 125.7 L509.5 133.1 L502.8 140.4 L506.2 150.8 L516.1 154.1 L522.8 158.4 L528.8 165.6 L533.9 170.9 L536.1 160.7 L540.6 147.3 L538.3 133.9 L549.4 135.0 L556.1 139.3 L567.2 141.4 L573.9 150.8 L580.5 159.1 L587.2 168.7 L580.5 173.4 L569.4 174.3 L565.0 177.4 L568.3 181.0 L576.1 187.6 L569.4 188.5 L567.3 190.5 L563.0 190.5 L561.0 187.9 L561.0 183.7 L557.9 182.8 L556.1 184.9 L552.8 189.9 L545.4 189.9 L541.7 192.2 L536.1 194.8 L528.6 195.7 L528.3 189.0 L523.2 185.2 L512.6 181.0 L500.2 178.0 L438.0 178.0 L436.1 178.0 L432.9 174.3 L427.3 171.9 L421.8 160.7 L415.1 150.8 L409.6 147.3 L400.7 143.2 L391.8 142.1 L384.0 138.6 L376.3 144.9 L369.6 149.7 L363.0 154.1 L351.9 159.1 L346.3 160.7 L356.3 155.1 L361.8 147.0 L351.9 142.8 L345.2 138.6 L344.1 132.0 L354.1 125.7 L343.0 125.3 L338.5 121.9 L343.0 109.9Z " fill="#1b3bff"/><path d="M565.0 192.8 L556.1 194.3 L555.7 199.4 L547.2 202.7 L542.8 211.0 L543.7 217.2 L537.2 220.9 L531.7 227.0 L533.5 238.5 L532.8 243.1 L530.1 241.6 L527.7 235.5 L525.0 230.9 L519.5 229.8 L512.8 230.3 L509.5 232.7 L502.8 231.9 L495.7 237.3 L495.4 240.8 L490.6 237.3 L486.4 231.4 L482.8 233.4 L479.5 231.9 L475.1 226.2 L471.3 227.5 L465.1 227.5 L456.6 224.4 L451.5 224.4 L448.4 220.4 L443.8 218.8 L440.7 213.2 L436.9 207.2 L435.6 201.3 L435.1 195.7 L436.4 186.1 L434.7 179.8 L438.0 180.1 L436.1 178.0 L438.0 178.0 L500.2 178.0 L512.6 181.0 L523.2 185.2 L528.3 189.0 L528.6 195.7 L536.1 194.8 L541.7 192.2 L545.4 189.9 L552.8 189.9 L556.1 184.9 L557.9 182.8 L561.0 183.7 L561.0 187.9 L563.0 190.5 L567.3 190.5 L565.0 192.8Z " fill="#0a28d0"/><path d="M707.5 194.5 L708.4 194.0 L708.8 190.8 L708.6 186.4 L706.6 183.7 L705.1 182.5 L701.7 181.3 L701.3 179.2 L704.8 178.6 L708.2 178.9 L707.3 175.9 L708.6 175.9 L708.8 176.8 L711.9 175.9 L714.8 174.3 L715.1 172.5 L717.0 171.6 L722.2 175.0 L724.4 176.5 L725.7 176.5 L729.7 178.0 L728.4 182.2 L724.8 186.1 L726.8 188.2 L727.0 192.2 L728.2 193.4 L724.8 195.4 L721.5 194.3 L718.4 195.4 L718.5 197.4 L713.1 196.3 L707.5 194.7 L692.8 194.6 L693.7 193.7 L698.2 194.0 L703.1 194.3 L707.5 194.5Z " fill="#1b3bff"/><path d="M727.3 163.3 L730.6 162.7 L731.0 161.4 L730.8 159.4 L733.7 159.6 L735.7 156.1 L735.5 158.1 L735.7 160.4 L736.4 162.0 L739.2 161.1 L743.0 162.7 L743.9 166.8 L744.4 171.9 L739.2 174.0 L742.1 178.6 L740.4 182.5 L733.7 182.5 L732.6 182.2 L728.4 182.2 L729.7 178.0 L725.7 176.5 L724.8 172.5 L724.8 169.4 L727.0 168.1 L727.0 164.6 L727.1 163.4 L727.3 163.3Z M743.2 157.1 L740.4 157.8 L739.6 155.8 L743.6 155.8 L743.2 157.1Z " fill="#1b3bff"/><path d="M719.5 170.3 L721.5 167.5 L722.2 165.6 L724.8 164.0 L727.2 163.3 L727.0 164.6 L727.0 168.1 L724.8 169.4 L724.8 172.5 L724.2 172.5 L724.4 171.2 L721.0 170.6 L718.8 170.8 L719.5 170.3Z " fill="#1b3bff"/><path d="M698.8 174.7 L702.2 171.2 L704.4 170.6 L700.0 169.7 L702.2 167.8 L701.3 164.6 L704.8 164.3 L704.4 161.7 L704.2 159.4 L700.6 159.8 L699.1 158.1 L697.7 153.5 L698.6 149.7 L700.4 147.0 L704.2 147.0 L707.5 150.4 L706.8 155.8 L708.2 157.5 L711.1 162.0 L712.2 164.3 L715.3 166.5 L714.6 171.2 L709.3 172.8 L703.7 174.0 L698.8 174.7Z " fill="#1b3bff"/><path d="M830.3 239.0 L828.9 238.2 L831.7 238.8 L830.3 239.0Z M818.1 232.1 L819.4 236.0 L822.1 238.5 L822.7 241.6 L824.3 243.6 L825.4 241.0 L825.8 244.8 L826.9 246.1 L831.4 245.6 L834.7 242.3 L836.5 240.3 L836.9 244.8 L841.4 247.1 L844.3 249.8 L842.5 252.3 L839.6 258.4 L836.9 260.8 L833.6 263.3 L829.4 265.6 L829.4 264.2 L828.7 262.5 L826.9 258.4 L820.5 259.4 L818.1 260.8 L815.2 262.5 L810.3 262.3 L807.4 264.0 L806.5 264.7 L805.0 264.7 L804.7 263.7 L801.4 258.4 L798.1 252.3 L794.8 244.8 L792.5 239.0 L789.2 232.5 L792.5 232.1 L795.9 230.9 L793.6 227.0 L798.5 225.1 L804.7 228.0 L810.7 232.9 L814.7 233.2 L817.4 230.6 L819.2 231.1 L818.1 232.1Z " fill="#1b3bff"/><path d="M955.7 254.7 L954.8 252.6 L956.7 252.9 L955.7 254.7Z M951.3 252.3 L948.6 254.0 L946.8 256.4 L946.4 258.9 L947.9 261.3 L950.2 264.5 L952.4 266.9 L953.5 269.3 L953.9 274.1 L953.0 277.0 L949.0 278.9 L947.9 281.3 L944.6 283.4 L943.5 278.9 L944.8 277.9 L947.3 277.7 L950.2 274.6 L950.4 269.5 L949.5 266.9 L948.2 264.5 L945.9 261.1 L943.5 259.4 L942.2 257.7 L943.7 256.7 L942.8 254.2 L940.6 254.0 L938.2 250.0 L941.3 249.0 L945.3 247.8 L948.4 249.0 L951.5 252.0 L952.4 252.2 L951.3 252.3Z " fill="#1b3bff"/><path d="M1000.8 221.5 L1002.1 220.4 L1003.4 218.8 L1007.2 216.4 L1013.4 215.9 L1015.2 213.7 L1015.2 211.8 L1019.0 211.0 L1021.4 208.8 L1022.3 205.5 L1022.1 202.7 L1023.0 200.8 L1025.4 200.2 L1026.1 202.7 L1026.5 205.5 L1024.7 208.8 L1024.1 212.4 L1024.1 216.1 L1021.9 217.2 L1020.1 218.0 L1018.3 218.8 L1015.4 219.6 L1012.3 221.7 L1010.8 221.5 L1007.9 222.2 L1005.9 222.2 L1004.3 222.8 L1003.0 227.2 L1000.5 227.7 L999.4 222.2 L1000.8 221.5Z M1021.9 197.4 L1023.4 194.8 L1025.6 194.3 L1026.1 188.7 L1029.0 191.1 L1032.3 192.8 L1034.3 194.8 L1030.7 196.3 L1029.6 198.5 L1025.2 197.4 L1024.3 199.1 L1022.3 199.9 L1021.9 197.4Z " fill="#1b3bff"/><path d="M1036.7 406.3 L1040.7 405.8 L1040.5 409.4 L1038.5 412.3 L1035.6 413.1 L1033.8 409.7 L1032.7 405.2 L1036.7 406.3Z M967.9 355.1 L971.2 353.2 L975.7 351.4 L980.1 350.2 L982.8 346.6 L985.7 344.9 L989.0 340.5 L991.7 337.4 L994.8 337.4 L998.8 338.8 L1000.5 333.5 L1004.1 330.4 L1007.9 330.9 L1011.6 332.3 L1015.2 332.8 L1013.4 338.8 L1017.4 341.7 L1021.2 345.1 L1024.1 345.3 L1025.9 340.5 L1026.3 334.0 L1027.8 329.0 L1029.4 331.6 L1030.3 336.2 L1032.3 337.6 L1034.1 339.3 L1035.4 344.1 L1036.5 348.8 L1040.1 351.4 L1042.7 354.4 L1045.2 357.6 L1046.7 359.6 L1049.8 363.1 L1051.4 365.1 L1052.5 371.4 L1051.6 376.5 L1050.1 381.7 L1047.4 386.5 L1044.9 391.8 L1044.5 396.1 L1040.1 397.2 L1036.3 400.5 L1033.2 397.5 L1029.4 400.0 L1023.6 397.8 L1021.6 394.8 L1019.0 390.5 L1015.6 391.5 L1016.8 388.3 L1017.4 383.3 L1014.5 385.2 L1012.3 389.1 L1009.4 383.8 L1006.8 381.7 L1003.0 380.4 L997.9 380.7 L991.2 382.5 L987.4 384.1 L985.7 386.7 L977.9 386.7 L973.5 389.7 L969.0 389.7 L967.0 385.9 L968.4 381.2 L966.8 375.3 L964.6 367.6 L963.2 362.6 L963.7 356.4 L967.9 355.1Z " fill="#0a24c6"/><circle cx="462.5" cy="205.5" r="23.7" fill="none" stroke="rgba(255,255,255,0.45)" stroke-width="1.3"/><circle cx="462.5" cy="205.5" r="44" fill="none" stroke="rgba(255,255,255,0.4)" stroke-width="1.3"/><circle cx="462.5" cy="205.5" r="68" fill="none" stroke="rgba(255,255,255,0.3)" stroke-width="1.3"/><circle cx="462.5" cy="205.5" r="90" fill="none" stroke="rgba(255,255,255,0.22)" stroke-width="1.3"/><path d="M388.5 166.0 L465.5 165.6" fill="none" stroke="rgba(235,235,245,0.75)" stroke-width="1.6" stroke-dasharray="3 3"/><circle cx="388.5" cy="166.0" r="2.4" fill="#e8eaff"/><circle cx="465.5" cy="165.6" r="2.4" fill="#e8eaff"/><path d="M388.5 205.5 L462.5 205.5" fill="none" stroke="rgba(235,235,245,0.75)" stroke-width="1.6" stroke-dasharray="3 3"/><circle cx="388.5" cy="205.5" r="2.4" fill="#e8eaff"/><circle cx="462.5" cy="205.5" r="2.4" fill="#e8eaff"/><path d="M677.1 112.5 L701.5 112.5 Q709.5 112.5 709.5 120.5 L709.5 160.5" fill="none" stroke="rgba(235,235,245,0.75)" stroke-width="1.6" stroke-dasharray="3 3"/><circle cx="677.1" cy="112.5" r="2.4" fill="#e8eaff"/><circle cx="709.5" cy="160.5" r="2.4" fill="#e8eaff"/><path d="M750.1 39.0 L736.0 39.0 Q728.0 39.0 728.0 47.0 L728.0 165.0" fill="none" stroke="rgba(235,235,245,0.75)" stroke-width="1.6" stroke-dasharray="3 3"/><circle cx="750.1" cy="39.0" r="2.4" fill="#e8eaff"/><circle cx="728.0" cy="165.0" r="2.4" fill="#e8eaff"/><path d="M750.1 80.0 L748.5 80.0 Q740.5 80.0 740.5 88.0 L740.5 167.0" fill="none" stroke="rgba(235,235,245,0.75)" stroke-width="1.6" stroke-dasharray="3 3"/><circle cx="750.1" cy="80.0" r="2.4" fill="#e8eaff"/><circle cx="740.5" cy="167.0" r="2.4" fill="#e8eaff"/><path d="M677.1 180.5 L720.5 180.7" fill="none" stroke="rgba(235,235,245,0.75)" stroke-width="1.6" stroke-dasharray="3 3"/><circle cx="677.1" cy="180.5" r="2.4" fill="#e8eaff"/><circle cx="720.5" cy="180.7" r="2.4" fill="#e8eaff"/><path d="M1059.5 212.0 L1020.2 212.3" fill="none" stroke="rgba(235,235,245,0.75)" stroke-width="1.6" stroke-dasharray="3 3"/><circle cx="1059.5" cy="212.0" r="2.4" fill="#e8eaff"/><circle cx="1020.2" cy="212.3" r="2.4" fill="#e8eaff"/><path d="M1059.5 266.5 L953.5 266.0" fill="none" stroke="rgba(235,235,245,0.75)" stroke-width="1.6" stroke-dasharray="3 3"/><circle cx="1059.5" cy="266.5" r="2.4" fill="#e8eaff"/><circle cx="953.5" cy="266.0" r="2.4" fill="#e8eaff"/><path d="M822.0 248.7 L839.1 248.7 Q847.1 248.7 847.1 256.7 L847.1 296.6" fill="none" stroke="rgba(235,235,245,0.75)" stroke-width="1.6" stroke-dasharray="3 3"/><circle cx="822.0" cy="248.7" r="2.4" fill="#e8eaff"/><circle cx="847.1" cy="296.6" r="2.4" fill="#e8eaff"/><path d="M1059.5 369.0 L1021.5 369.0" fill="none" stroke="rgba(235,235,245,0.75)" stroke-width="1.6" stroke-dasharray="3 3"/><circle cx="1059.5" cy="369.0" r="2.4" fill="#e8eaff"/><circle cx="1021.5" cy="369.0" r="2.4" fill="#e8eaff"/></svg>
<div class="r" style="left:1568.0px;top:742.0px;width:107.0px;height:30.0px;background:#55555f;border-radius:5px;"></div>
<svg width="16" height="11" style="position:absolute;left:1577.0px;top:751.5px"><rect width="16" height="11" fill="#fff"/><rect width="4" height="11" fill="#d52b1e"/><rect x="12" width="4" height="11" fill="#d52b1e"/><path d="M8 2 L9.5 5 L11 4.5 L10 7.5 L8 8.5 L6 7.5 L5 4.5 L6.5 5Z" fill="#d52b1e"/></svg><div class="t" style="left:1599.0px;top:748.6px;font-size:16px;line-height:19.2px;color:#ececf0;letter-spacing:-0.414px;">Canada 3</div>
<div class="r" style="left:1517.0px;top:781.7px;width:158.0px;height:29.9px;background:#55555f;border-radius:5px;"></div>
<svg width="16" height="11" style="position:absolute;left:1526.0px;top:791.2px"><rect width="16" height="11" fill="#f3f3f3"/><rect y="0.00" width="16" height="0.8" fill="#c8344a"/><rect y="1.57" width="16" height="0.8" fill="#c8344a"/><rect y="3.14" width="16" height="0.8" fill="#c8344a"/><rect y="4.71" width="16" height="0.8" fill="#c8344a"/><rect y="6.28" width="16" height="0.8" fill="#c8344a"/><rect y="7.85" width="16" height="0.8" fill="#c8344a"/><rect y="9.42" width="16" height="0.8" fill="#c8344a"/><rect width="7" height="6" fill="#4457a8"/></svg><div class="t" style="left:1548.0px;top:788.2px;font-size:16px;line-height:19.2px;color:#ececf0;letter-spacing:-0.053px;">United States 59</div>
<div class="r" style="left:1798.0px;top:688.5px;width:165.6px;height:29.9px;background:#55555f;border-radius:5px;"></div>
<svg width="16" height="11" style="position:absolute;left:1807.0px;top:698.0px"><rect width="16" height="11" fill="#2a3f8f"/><path d="M0 0L16 11M16 0L0 11" stroke="#fff" stroke-width="2.2"/><path d="M0 0L16 11M16 0L0 11" stroke="#d0343f" stroke-width="0.9"/><path d="M8 0V11M0 5.5H16" stroke="#fff" stroke-width="3.2"/><path d="M8 0V11M0 5.5H16" stroke="#d0343f" stroke-width="1.8"/></svg><div class="t" style="left:1829.0px;top:695.0px;font-size:16px;line-height:19.2px;color:#ececf0;letter-spacing:-0.140px;">United Kingdom 5</div>
<div class="r" style="left:1864.0px;top:756.6px;width:99.6px;height:29.8px;background:#55555f;border-radius:5px;"></div>
<svg width="16" height="11" style="position:absolute;left:1873.0px;top:766.0px"><rect width="5.4" height="11" fill="#2845a0"/><rect x="5.4" width="5.3" height="11" fill="#fff"/><rect x="10.7" width="5.3" height="11" fill="#e0303c"/></svg><div class="t" style="left:1895.0px;top:763.1px;font-size:16px;line-height:19.2px;color:#ececf0;letter-spacing:-0.480px;transform:scaleX(0.9893);transform-origin:left center;">France 7</div>
<div class="r" style="left:2036.6px;top:615.0px;width:139.9px;height:30.0px;background:#55555f;border-radius:5px;"></div>
<svg width="16" height="11" style="position:absolute;left:2045.6px;top:624.5px"><rect width="16" height="3.7" fill="#c9303c"/><rect y="3.7" width="16" height="3.6" fill="#fff"/><rect y="7.3" width="16" height="3.7" fill="#2a4a9a"/></svg><div class="t" style="left:2067.6px;top:621.6px;font-size:16px;line-height:19.2px;color:#ececf0;letter-spacing:-0.017px;">Netherlands 3</div>
<div class="r" style="left:2036.6px;top:656.0px;width:116.4px;height:30.0px;background:#55555f;border-radius:5px;"></div>
<svg width="16" height="11" style="position:absolute;left:2045.6px;top:665.5px"><rect width="16" height="3.7" fill="#111"/><rect y="3.7" width="16" height="3.6" fill="#d9232e"/><rect y="7.3" width="16" height="3.7" fill="#f5c400"/></svg><div class="t" style="left:2067.6px;top:662.6px;font-size:16px;line-height:19.2px;color:#ececf0;letter-spacing:-0.400px;">Germany 2</div>
<div class="r" style="left:2346.0px;top:786.0px;width:97.0px;height:30.6px;background:#55555f;border-radius:5px;"></div>
<svg width="16" height="11" style="position:absolute;left:2355.0px;top:795.8px"><rect width="16" height="11" fill="#fff"/><circle cx="8" cy="5.5" r="3.3" fill="#c8102e"/></svg><div class="t" style="left:2377.0px;top:792.9px;font-size:16px;line-height:19.2px;color:#ececf0;letter-spacing:-0.067px;">Japan 4</div>
<div class="r" style="left:2346.0px;top:842.0px;width:111.5px;height:31.0px;background:#55555f;border-radius:5px;"></div>
<svg width="16" height="11" style="position:absolute;left:2355.0px;top:852.0px"><rect width="16" height="11" fill="#da251d"/><path d="M8 2.3 L8.9 5 L11.6 5 L9.4 6.6 L10.2 9.2 L8 7.6 L5.8 9.2 L6.6 6.6 L4.4 5 L7.1 5Z" fill="#ffde00"/></svg><div class="t" style="left:2377.0px;top:849.1px;font-size:16px;line-height:19.2px;color:#ececf0;letter-spacing:-0.100px;">Vietnam 5</div>
<div class="r" style="left:2346.0px;top:943.8px;width:122.0px;height:30.2px;background:#55555f;border-radius:5px;"></div>
<svg width="16" height="11" style="position:absolute;left:2355.0px;top:953.4px"><rect width="16" height="11" fill="#2a3f8f"/><path d="M0 0L7 5M7 0L0 5" stroke="#fff" stroke-width="1.2"/><path d="M3.5 0V5M0 2.5H7" stroke="#fff" stroke-width="1.6"/><path d="M3.5 0V5M0 2.5H7" stroke="#d0343f" stroke-width="0.8"/><circle cx="12" cy="3" r="0.9" fill="#fff"/><circle cx="10.5" cy="6" r="0.9" fill="#fff"/><circle cx="13.5" cy="7" r="0.9" fill="#fff"/><circle cx="4" cy="8.3" r="1.3" fill="#fff"/></svg><div class="t" style="left:2377.0px;top:950.5px;font-size:16px;line-height:19.2px;color:#ececf0;letter-spacing:-0.273px;">Australia 14</div>
<div class="r" style="left:2057.0px;top:893.5px;width:170.0px;height:48.2px;background:#55555f;border-radius:5px;"></div>
<svg width="16" height="16" style="position:absolute;left:2066.0px;top:897.0px"><circle cx="8" cy="8" r="7" fill="#1f7a3a"/><circle cx="8" cy="7" r="4.2" fill="#d8d8a0"/><circle cx="8" cy="7" r="2.5" fill="#6a8a4a"/></svg><div class="t" style="left:2087.8px;top:898.6px;font-size:16px;line-height:19.2px;color:#ececf0;letter-spacing:0.057px;">Gulf Cooperation</div>
<div class="t" style="left:2087.8px;top:917.3px;font-size:16px;line-height:19.2px;color:#ececf0;letter-spacing:-0.463px;">Council (GCC) 5</div>
<div class="r" style="left:73.0px;top:1068.0px;width:1200.0px;height:307.0px;background:linear-gradient(180deg,#2f303c,#353643);border-radius:20px;"></div>
<div class="r" style="left:681.0px;top:1068.0px;width:592.0px;height:307.0px;background:#21232f;border-radius:20px;"></div>
<div class="t" style="left:100.0px;top:1092.4px;font-size:25.7px;line-height:30.84px;color:#f2f2f5;letter-spacing:1.342px;">Top Techniques Used to Attack</div>
<div class="t" style="left:100.0px;top:1124.5px;font-size:25.7px;line-height:30.84px;color:#f2f2f5;letter-spacing:1.423px;">Upstream Vendors</div>
<div class="r" style="left:99.0px;top:1179.0px;width:133.0px;height:30.0px;background:#1b1c27;border-radius:7px;"></div>
<div class="t" style="left:111.6px;top:1185.8px;font-size:15.5px;line-height:18.6px;color:#e6e6ec;letter-spacing:0.134px;">Token hijacking</div>
<div class="r" style="left:99.0px;top:1214.5px;width:370.8px;height:30.0px;background:#1b1c27;border-radius:7px;"></div>
<div class="t" style="left:111.6px;top:1221.3px;font-size:15.5px;line-height:18.6px;color:#e6e6ec;letter-spacing:0.249px;">Compromised third-party integrations &amp; API keys</div>
<div class="r" style="left:99.0px;top:1249.9px;width:253.7px;height:30.0px;background:#1b1c27;border-radius:7px;"></div>
<div class="t" style="left:111.6px;top:1256.7px;font-size:15.5px;line-height:18.6px;color:#e6e6ec;letter-spacing:0.257px;">Developer / maintainer targeting</div>
<div class="r" style="left:99.0px;top:1285.3px;width:398.6px;height:30.0px;background:#1b1c27;border-radius:7px;"></div>
<div class="t" style="left:111.6px;top:1292.2px;font-size:15.5px;line-height:18.6px;color:#e6e6ec;letter-spacing:0.278px;">Synthetic insiders / deepfake-enabled impersonation</div>
<div class="r" style="left:99.0px;top:1320.8px;width:219.4px;height:30.0px;background:#1b1c27;border-radius:7px;"></div>
<div class="t" style="left:111.6px;top:1327.6px;font-size:15.5px;line-height:18.6px;color:#e6e6ec;letter-spacing:0.226px;">Malicious package injection</div>
<div class="r" style="left:657px;top:1205.7px;width:42px;height:42px;border-radius:50%;background:radial-gradient(circle,#b5001f 55%,#8a0018 100%);"></div>
<svg class="r" style="position:absolute;left:670px;top:1218.7px" width="16" height="16"><path d="M8 1.5V14.5M1.5 8H14.5" stroke="#fff" stroke-width="2"/></svg>
<div class="t" style="left:717.0px;top:1092.4px;font-size:25.7px;line-height:30.84px;color:#f2f2f5;letter-spacing:1.037px;">Evolution of Social Engineering</div>
<div class="t" style="left:717.0px;top:1124.5px;font-size:25.7px;line-height:30.84px;color:#f2f2f5;letter-spacing:1.265px;">Through Artificial Intelligence</div>
<div class="r" style="left:717.0px;top:1179.0px;width:125.6px;height:30.0px;background:linear-gradient(90deg,#1b1c27 0%,#1b1c27 55%,#3a1422 78%,#b0001c 100%);border-radius:7px;"></div>
<div class="t" style="left:728.8px;top:1185.8px;font-size:15.5px;line-height:18.6px;color:#e6e6ec;letter-spacing:0.127px;">Mass phishing</div>
<svg style="position:absolute;left:842.6px;top:1188.0px" width="135.2" height="12"><defs><linearGradient id="ag0" gradientUnits="userSpaceOnUse" x1="0" y1="0" x2="135.2" y2="0"><stop offset="0" stop-color="#8a8a96"/><stop offset="1" stop-color="#c0102a"/></linearGradient></defs><path d="M1 6 H132.2" stroke="url(#ag0)" stroke-width="1.5"/><path d="M126.2 1.5 L132.2 6 L126.2 10.5" stroke="#c0102a" stroke-width="1.5" fill="none"/></svg>
<div class="r" style="left:977.8px;top:1179.0px;width:202.9px;height:30.0px;background:#c8091f;border-radius:7px;"></div>
<div class="t" style="left:990.3px;top:1185.8px;font-size:15.5px;line-height:18.6px;color:#ffe8ea;letter-spacing:0.204px;">Hyper-personalized lures</div>
<div class="r" style="left:717.0px;top:1214.5px;width:126.4px;height:30.0px;background:linear-gradient(90deg,#1b1c27 0%,#1b1c27 55%,#3a1422 78%,#b0001c 100%);border-radius:7px;"></div>
<div class="t" style="left:728.8px;top:1221.3px;font-size:15.5px;line-height:18.6px;color:#e6e6ec;letter-spacing:0.295px;">Impersonation</div>
<svg style="position:absolute;left:843.4px;top:1223.5px" width="134.4" height="12"><defs><linearGradient id="ag1" gradientUnits="userSpaceOnUse" x1="0" y1="0" x2="134.4" y2="0"><stop offset="0" stop-color="#8a8a96"/><stop offset="1" stop-color="#c0102a"/></linearGradient></defs><path d="M1 6 H131.4" stroke="url(#ag1)" stroke-width="1.5"/><path d="M125.4 1.5 L131.4 6 L125.4 10.5" stroke="#c0102a" stroke-width="1.5" fill="none"/></svg>
<div class="r" style="left:977.8px;top:1214.5px;width:248.9px;height:30.0px;background:#c8091f;border-radius:7px;"></div>
<div class="t" style="left:990.3px;top:1221.3px;font-size:15.5px;line-height:18.6px;color:#ffe8ea;letter-spacing:0.312px;">Deepfake-enabled trust attacks</div>
<div class="r" style="left:717.0px;top:1249.9px;width:126.4px;height:30.0px;background:linear-gradient(90deg,#1b1c27 0%,#1b1c27 55%,#3a1422 78%,#b0001c 100%);border-radius:7px;"></div>
<div class="t" style="left:728.8px;top:1256.7px;font-size:15.5px;line-height:18.6px;color:#e6e6ec;letter-spacing:0.079px;">Fake accounts</div>
<svg style="position:absolute;left:843.4px;top:1258.9px" width="134.4" height="12"><defs><linearGradient id="ag2" gradientUnits="userSpaceOnUse" x1="0" y1="0" x2="134.4" y2="0"><stop offset="0" stop-color="#8a8a96"/><stop offset="1" stop-color="#c0102a"/></linearGradient></defs><path d="M1 6 H131.4" stroke="url(#ag2)" stroke-width="1.5"/><path d="M125.4 1.5 L131.4 6 L125.4 10.5" stroke="#c0102a" stroke-width="1.5" fill="none"/></svg>
<div class="r" style="left:977.8px;top:1249.9px;width:162.2px;height:30.0px;background:#c8091f;border-radius:7px;"></div>
<div class="t" style="left:990.3px;top:1256.7px;font-size:15.5px;line-height:18.6px;color:#ffe8ea;letter-spacing:0.403px;">Synthetic identities</div>
<div class="r" style="left:717.0px;top:1285.3px;width:106.0px;height:30.0px;background:linear-gradient(90deg,#1b1c27 0%,#1b1c27 55%,#3a1422 78%,#b0001c 100%);border-radius:7px;"></div>
<div class="t" style="left:728.8px;top:1292.2px;font-size:15.5px;line-height:18.6px;color:#e6e6ec;letter-spacing:0.082px;">Manual ops</div>
<svg style="position:absolute;left:823.0px;top:1294.3px" width="154.8" height="12"><defs><linearGradient id="ag3" gradientUnits="userSpaceOnUse" x1="0" y1="0" x2="154.8" y2="0"><stop offset="0" stop-color="#8a8a96"/><stop offset="1" stop-color="#c0102a"/></linearGradient></defs><path d="M1 6 H151.8" stroke="url(#ag3)" stroke-width="1.5"/><path d="M145.8 1.5 L151.8 6 L145.8 10.5" stroke="#c0102a" stroke-width="1.5" fill="none"/></svg>
<div class="r" style="left:977.8px;top:1285.3px;width:232.7px;height:30.0px;background:#c8091f;border-radius:7px;"></div>
<div class="t" style="left:990.3px;top:1292.2px;font-size:15.5px;line-height:18.6px;color:#ffe8ea;letter-spacing:0.267px;">Autonomous scam workflows</div>
<div class="r" style="left:717.0px;top:1320.8px;width:102.4px;height:30.0px;background:linear-gradient(90deg,#1b1c27 0%,#1b1c27 55%,#3a1422 78%,#b0001c 100%);border-radius:7px;"></div>
<div class="t" style="left:728.8px;top:1327.6px;font-size:15.5px;line-height:18.6px;color:#e6e6ec;letter-spacing:0.061px;">Persuasion</div>
<svg style="position:absolute;left:819.4px;top:1329.8px" width="158.4" height="12"><defs><linearGradient id="ag4" gradientUnits="userSpaceOnUse" x1="0" y1="0" x2="158.4" y2="0"><stop offset="0" stop-color="#8a8a96"/><stop offset="1" stop-color="#c0102a"/></linearGradient></defs><path d="M1 6 H155.4" stroke="url(#ag4)" stroke-width="1.5"/><path d="M149.4 1.5 L155.4 6 L149.4 10.5" stroke="#c0102a" stroke-width="1.5" fill="none"/></svg>
<div class="r" style="left:977.8px;top:1320.8px;width:231.9px;height:30.0px;background:#c8091f;border-radius:7px;"></div>
<div class="t" style="left:990.3px;top:1327.6px;font-size:15.5px;line-height:18.6px;color:#ffe8ea;letter-spacing:0.162px;">On-demand malware delivery</div>
<div class="r" style="left:1286.0px;top:1068.0px;width:1200.0px;height:307.0px;background:linear-gradient(180deg,#7a0212 0%,#5c020d 45%,#2a0207 100%);border-radius:16px;box-shadow:inset 0 0 0 1.2px rgba(255,70,90,0.13);"></div>
<div class="t" style="left:882.0px;width:2000px;text-align:center;top:1086.0px;font-size:26px;line-height:31.2px;color:#fff0f0;letter-spacing:1.122px;">Top Supply Chain-Focused</div>
<div class="t" style="left:882.0px;width:2000px;text-align:center;top:1117.2px;font-size:26px;line-height:31.2px;color:#fff0f0;letter-spacing:1.238px;">Cybercriminals</div>
<div class="r" style="left:1315.4px;top:1162.6px;width:176.5px;height:195px;background:#8d8d95;border-radius:7px;overflow:hidden"><svg width="176.5" height="195" style="position:absolute;left:0;top:0"><defs><linearGradient id="dfc" x1="0" y1="0" x2="0" y2="1"><stop offset="0" stop-color="#c41a22"/><stop offset="1" stop-color="#8e1016"/></linearGradient></defs><ellipse cx="88" cy="96" rx="53" ry="51" fill="#c8c8cc"/><path d="M62 40 L88 44 L112 46 L122 96 L66 96 Z" fill="#8e8e96"/><path d="M75 37 L86 56 L92 52 L108 46 L112 62 L116 80 L110 98 L84 100 L76 88 L68 60 L64 50 Z" fill="#1a1a1e"/><path d="M100 78 L118 80 L114 86 L98 84Z" fill="#b0141c"/><path d="M60 86 Q84 76 106 84 L116 100 L120 130 L127 174.6 L47.7 174.6 L50 140 L54 104 Z" fill="url(#dfc)"/><path d="M106 110 L116 120 L124 174 L110 174 Z" fill="#2a1a1c" opacity="0.6"/></svg></div>
<div class="t" style="left:1324.4px;top:1170.8px;font-size:14.5px;line-height:17.4px;color:#f0f0f4;letter-spacing:0.237px;">DragonForce</div>
<div class="r" style="left:1507.7px;top:1162.6px;width:176.5px;height:195px;background:#0f0f12;border-radius:7px;overflow:hidden"><svg width="176.5" height="195" style="position:absolute;left:0;top:0"><defs><linearGradient id="hf" x1="0" y1="0" x2="0" y2="1"><stop offset="0" stop-color="#1c1c1f"/><stop offset="1" stop-color="#040405"/></linearGradient></defs><rect width="176.5" height="195" fill="url(#hf)"/><path d="M34.8 26.5 H62.9 V62 L88 96 L112.5 62 V26.5 H140.7 V66 L106 110 L140.7 150 V178 H112.5 V158 L88 124 L62.9 158 V178 H34.8 V150 L70 110 L34.8 66 Z" fill="#ff1527"/><path d="M31.4 112 Q36 92 60 86 L80 78 L96 84 L118 86 Q140 96 140.7 122 L136 150 L118 158 L114 179.6 L62 179.6 L58 158 L34 150 Z" fill="#26262a"/><path d="M72 50 Q72 30 94 29.8 Q117.5 32 117.5 52 L114 70 Q104 80 92 78.6 Q78 74 74 64 Z" fill="#6a564c"/><path d="M74 30 Q94 24 116 34 L116 46 Q94 40 74 44 Z" fill="#18181a"/><rect x="72" y="47" width="46" height="13" rx="5" fill="#101012"/><circle cx="100" cy="54" r="3.6" fill="#ff2030"/><circle cx="110" cy="53" r="3.2" fill="#ff2030"/><path d="M84 100 L96 88 L104 120 Z" fill="#141416"/></svg></div>
<div class="t" style="left:1516.7px;top:1170.8px;font-size:14.5px;line-height:17.4px;color:#f0f0f4;letter-spacing:-0.006px;">HAFNIUM</div>
<div class="r" style="left:1699.5px;top:1162.6px;width:176.5px;height:195px;background:#8d8d95;border-radius:7px;overflow:hidden"><svg width="176.5" height="195" style="position:absolute;left:0;top:0"><path d="M35.9 44.7 L140.7 32.3 V57.9 L35.9 70.3 Z" fill="#ff1527"/><path d="M35.9 77.8 L140.7 65.4 V91.9 L35.9 100 Z" fill="#ff1527"/><path d="M35.9 116 L140.7 109 V136.5 L35.9 140 Z" fill="#ff1527"/><defs><linearGradient id="lzh" x1="0" y1="0" x2="1" y2="0"><stop offset="0" stop-color="#8a1418"/><stop offset="1" stop-color="#d42a24"/></linearGradient></defs><path d="M57.4 58 Q57.4 31.4 75 31.4 Q93 31.4 93 58 L90 84 Q82 92 75 90.2 Q64 88 60 80 Z" fill="url(#lzh)"/><path d="M36.7 100 L61.6 86.9 L94.7 85.2 L126 100 L132.7 138 L104.6 156.4 L56.6 170.5 L31 144.8 Z" fill="#17181c"/><path d="M64 88 L72 100 L70 160 L60 166 Z" fill="#2a2b30" opacity="0.7"/></svg></div>
<div class="t" style="left:1708.5px;top:1170.8px;font-size:14.5px;line-height:17.4px;color:#f0f0f4;letter-spacing:-0.005px;">Lazarus</div>
<div class="r" style="left:1891px;top:1162.6px;width:176.5px;height:195px;background:#0f0f12;border-radius:7px;overflow:hidden"><svg width="176.5" height="195" style="position:absolute;left:0;top:0"><defs><linearGradient id="e8" x1="0" y1="0" x2="0" y2="1"><stop offset="0" stop-color="#1a1a1d"/><stop offset="1" stop-color="#030304"/></linearGradient></defs><rect width="176.5" height="195" fill="url(#e8)"/><path d="M58 26.5 L84.6 41 V70 L58 84.4 L31.4 70 V41 Z" fill="#ff1527"/><path d="M115 26.5 L142.3 41 V70 L115 84.4 L88 70 V41 Z" fill="#ff1527"/><path d="M31.4 106.7 L45 100 V140 L31.4 133 Z" fill="#ff1527"/><path d="M28 164.7 L30 110 Q34 90 56 86 L70 78.6 L98 78 L116 86 Q144 92 146 120 L148 164.7 Z" fill="#6e6e72"/><path d="M80 84 H98.5 V164.7 H80 Z" fill="#18181a"/><path d="M73.7 48 Q73.7 26.5 90.6 26.5 Q107.6 26.5 107.6 48 L104 68 Q96 75 90 73.7 Q80 72 76 64 Z" fill="#bfb2aa"/><rect x="73" y="45.5" width="35" height="8.3" fill="#ff3a44"/></svg></div>
<div class="t" style="left:1900.0px;top:1170.8px;font-size:14.5px;line-height:17.4px;color:#f0f0f4;letter-spacing:0.165px;">888</div>
<div class="r" style="left:2083.5px;top:1162.6px;width:176.5px;height:195px;background:#8d8d95;border-radius:7px;overflow:hidden"><svg width="176.5" height="195" style="position:absolute;left:0;top:0"><circle cx="87" cy="80" r="52.7" fill="#0a0a0c"/><path d="M73 74 Q94 60 114 72 Q126 82 131 100 Q136 125 137 163.4 L41 163.4 Q43 125 48 102 Q58 82 73 74 Z" fill="#a81c20"/><path d="M68 56 Q68 34.5 86 34.5 Q103 34.5 103 56 L100 73 L72 73 Z" fill="#2a2022"/><ellipse cx="84.3" cy="50.2" rx="32.6" ry="14" fill="#e89890" opacity="0.8" transform="rotate(-8 84.3 50.2)"/><ellipse cx="84.3" cy="52" rx="28" ry="7" fill="#c05050" opacity="0.5" transform="rotate(-8 84.3 52)"/></svg></div>
<div class="t" style="left:2092.5px;top:1170.8px;font-size:14.5px;line-height:17.4px;color:#f0f0f4;letter-spacing:0.303px;">Shai-Hulud</div>
<div class="r" style="left:2275px;top:1162.6px;width:183px;height:195px;background:#fb0321;border-radius:7px;overflow:hidden"><svg width="183" height="195" style="position:absolute;left:0;top:0"><circle cx="55.7" cy="52.8" r="20.5" fill="#c4c4c8"/><circle cx="111.5" cy="45" r="13" fill="#c4c4c8"/><circle cx="147.2" cy="73.7" r="12.2" fill="#c4c4c8"/><circle cx="40" cy="96.3" r="15.7" fill="#c4c4c8"/><circle cx="148.6" cy="111" r="8" fill="#c4c4c8"/><path d="M52 95.5 Q60 84 82 78 L108 78 Q122 84 127 95.5 L136 130 L137.6 161.7 L87 165 L43.5 156 L46 120 Z" fill="#141416"/><path d="M76.7 54 Q76.7 27.5 96.7 27.5 Q116.7 27.5 116.7 54 L112 76 Q104 82 96 79.8 Q84 78 80 70 Z" fill="#1c1c1e"/><circle cx="90" cy="50" r="1.2" fill="#d04050"/><circle cx="98" cy="48" r="1.2" fill="#d04050"/><circle cx="104" cy="56" r="1.2" fill="#d04050"/><circle cx="92" cy="60" r="1.2" fill="#d04050"/><circle cx="100" cy="64" r="1.2" fill="#d04050"/><circle cx="108" cy="46" r="1.2" fill="#d04050"/><circle cx="86" cy="40" r="1.2" fill="#d04050"/><circle cx="96" cy="38" r="1.2" fill="#d04050"/></svg></div>
<div class="t" style="left:2284.0px;top:1170.8px;font-size:14.5px;line-height:17.4px;color:#f0f0f4;letter-spacing:0.326px;">Scattered Spider</div>
<div class="t" style="left:280.0px;width:2000px;text-align:center;top:1399.8px;font-size:26.6px;line-height:31.92px;color:#ffffff;letter-spacing:0.763px;">Transformation of the Cybercrime Ecosystem</div>
<div class="r" style="left:73.0px;top:1446.0px;width:594.0px;height:247.6px;background:#333f6d;border-radius:18px;"></div>
<div class="r" style="left:680.0px;top:1446.0px;width:593.5px;height:247.6px;background:#333f6d;border-radius:18px;"></div>
<div class="r" style="left:1286.0px;top:1446.0px;width:594.0px;height:247.6px;background:#333f6d;border-radius:18px;"></div>
<div class="r" style="left:1892.5px;top:1446.0px;width:594.5px;height:247.6px;background:#333f6d;border-radius:18px;"></div>
<div class="t" style="left:98.0px;top:1463.1px;font-size:26.6px;line-height:31.92px;color:#f4f5fa;letter-spacing:0.638px;">Initial Access Brokers</div>
<div class="t" style="left:98.0px;top:1521.9px;font-size:16px;line-height:19.2px;color:#e4e7f4;letter-spacing:-0.030px;">Public IAB listings declined</div>
<div class="t" style="left:96.8px;top:1536.7px;font-size:76px;line-height:91.2px;color:#ffffff;letter-spacing:-2.280px;-webkit-text-stroke:0.8px currentColor;transform:scaleX(0.9150);transform-origin:left center;">27%</div>
<div class="t" style="left:98.0px;top:1626.5px;font-size:16px;line-height:19.2px;color:#e4e7f4;letter-spacing:0.047px;">shifting high-value deals</div>
<div class="t" style="left:98.0px;top:1644.6px;font-size:16px;line-height:19.2px;color:#e4e7f4;letter-spacing:0.019px;">into private channels</div>
<div class="r" style="left:317.0px;top:1526.0px;width:1.5px;height:142.5px;background:rgba(255,255,255,0.3);border-radius:0px;"></div>
<div class="t" style="left:354.0px;top:1525.9px;font-size:16px;line-height:19.2px;color:#e4e7f4;letter-spacing:-0.027px;">High-value access is sold directly</div>
<div class="t" style="left:354.0px;top:1544.3px;font-size:16px;line-height:19.2px;color:#e4e7f4;letter-spacing:-0.041px;">to ransomware operators</div>
<div class="t" style="left:354.0px;top:1588.9px;font-size:16px;line-height:19.2px;color:#e4e7f4;letter-spacing:-0.107px;">Access is increasingly sold as</div>
<div class="r" style="left:354.0px;top:1613.6px;width:60.8px;height:27.0px;background:#1b2446;border-radius:8px;"></div>
<div class="t" style="left:-615.6px;width:2000px;text-align:center;top:1620.7px;font-size:12.5px;line-height:15.0px;color:#e4e7f4;letter-spacing:-0.375px;transform:scaleX(0.9753);transform-origin:center center;">Tokens</div>
<div class="r" style="left:421.0px;top:1613.6px;width:86.4px;height:27.0px;background:#1b2446;border-radius:8px;"></div>
<div class="t" style="left:-535.8px;width:2000px;text-align:center;top:1620.7px;font-size:12.5px;line-height:15.0px;color:#e4e7f4;letter-spacing:-0.375px;transform:scaleX(0.9690);transform-origin:center center;">SaaS admin</div>
<div class="r" style="left:513.5px;top:1613.6px;width:136.1px;height:27.0px;background:#1b2446;border-radius:8px;"></div>
<div class="t" style="left:-418.5px;width:2000px;text-align:center;top:1620.7px;font-size:12.5px;line-height:15.0px;color:#e4e7f4;letter-spacing:-0.090px;">Integration footholds</div>
<div class="t" style="left:354.0px;top:1646.9px;font-size:16px;line-height:19.2px;color:#e4e7f4;letter-spacing:-0.211px;">not just VPN/RDP</div>
<div class="t" style="left:702.0px;top:1463.1px;font-size:26.6px;line-height:31.92px;color:#f4f5fa;letter-spacing:0.640px;">Phishing</div>
<div class="r" style="left:697.9px;top:1506.0px;width:275.9px;height:169.5px;background:#161d3a;border-radius:14px;"></div>
<div class="r" style="left:979.4px;top:1506.0px;width:276.0px;height:169.5px;background:#161d3a;border-radius:14px;"></div>
<svg style="position:absolute;left:712px;top:1520px" width="46" height="40"><g fill="none" stroke-linecap="round"><path d="M8.4 33.9 A19 19 0 1 1 36.6 33.9" stroke="#2d48ff" stroke-width="4"/><path d="M13.8 28.6 A10.5 10.5 0 1 1 31.2 28.6" stroke="#2d48ff" stroke-width="3.4"/><path d="M8.4 33.9 A19 19 0 1 1 36.6 33.9" stroke="#8fa0ff" stroke-width="1" opacity="0.7"/><path d="M13.8 28.6 A10.5 10.5 0 1 1 31.2 28.6" stroke="#8fa0ff" stroke-width="0.9" opacity="0.6"/></g><circle cx="22.5" cy="21.5" r="2.6" fill="#7d8fff"/></svg><svg style="position:absolute;left:994px;top:1529px" width="50" height="24"><g fill="none" stroke-linecap="round" stroke-linejoin="round"><path d="M13 2 L3 12 L13 22M37 2 L47 12 L37 22" stroke="#2d48ff" stroke-width="3.4"/><path d="M13 2 L3 12 L13 22M37 2 L47 12 L37 22" stroke="#8fa0ff" stroke-width="0.9" opacity="0.6"/></g><rect x="15.5" y="10.5" width="3.2" height="3.2" rx="0.8" fill="#5a6ab8"/><rect x="23.5" y="10.5" width="3.2" height="3.2" rx="0.8" fill="#5a6ab8"/><rect x="31.5" y="10.5" width="3.2" height="3.2" rx="0.8" fill="#5a6ab8"/></svg><div class="t" style="left:713.8px;top:1584.0px;font-size:15.2px;line-height:18.24px;color:#e4e7f4;letter-spacing:0.354px;">Automated SpaaS + AI-driven</div>
<div class="t" style="left:713.8px;top:1602.5px;font-size:15.2px;line-height:18.24px;color:#e4e7f4;letter-spacing:0.433px;">lures turned phishing into</div>
<div class="t" style="left:713.8px;top:1620.9px;font-size:15.2px;line-height:18.24px;color:#e4e7f4;font-weight:700;letter-spacing:-0.174px;">an always-on, adaptive</div>
<div class="t" style="left:713.8px;top:1639.4px;font-size:15.2px;line-height:18.24px;color:#e4e7f4;font-weight:700;letter-spacing:-0.165px;">delivery layer</div>
<div class="t" style="left:995.0px;top:1603.0px;font-size:15.2px;line-height:18.24px;color:#e4e7f4;letter-spacing:0.468px;">Focus shifted from</div>
<div class="t" style="left:995.0px;top:1621.4px;font-size:15.2px;line-height:18.24px;color:#e4e7f4;letter-spacing:0.580px;">passwords → <b>to identity,</b></div>
<div class="t" style="left:995.0px;top:1639.8px;font-size:15.2px;line-height:18.24px;color:#e4e7f4;letter-spacing:-0.005px;"><b>tokens, and consent theft</b></div>
<div class="t" style="left:1311.0px;top:1463.1px;font-size:26.6px;line-height:31.92px;color:#f4f5fa;letter-spacing:0.491px;">Ransomware</div>
<div class="t" style="left:1311.0px;top:1523.4px;font-size:16px;line-height:19.2px;color:#e4e7f4;letter-spacing:-0.348px;">Fewer new RaaS programs</div>
<svg style="position:absolute;left:1481px;top:1568px" width="80" height="95"><defs><linearGradient id="rg" x1="0" y1="0" x2="0" y2="1"><stop offset="0" stop-color="#e8102a" stop-opacity="0"/><stop offset="0.55" stop-color="#c8102a" stop-opacity="0.75"/><stop offset="1" stop-color="#f0102a"/></linearGradient></defs><path d="M25 2 H53 V50 H76 L39 92 L2 50 H25 Z" fill="url(#rg)"/></svg>
<div class="t" style="left:1313.6px;top:1534.5px;font-size:75px;line-height:90.0px;color:#ffffff;letter-spacing:-2.250px;-webkit-text-stroke:0.8px currentColor;transform:scaleX(0.8633);transform-origin:left center;">-17.9%</div>
<div class="t" style="left:1311.0px;top:1626.5px;font-size:16px;line-height:19.2px;color:#e4e7f4;letter-spacing:0.098px;">but overall activity</div>
<div class="t" style="left:1311.0px;top:1644.6px;font-size:16px;line-height:19.2px;color:#e4e7f4;letter-spacing:0.063px;">continued to expand</div>
<div class="r" style="left:1582.5px;top:1526.0px;width:1.5px;height:142.5px;background:rgba(255,255,255,0.3);border-radius:0px;"></div>
<div class="t" style="left:1627.6px;top:1523.4px;font-size:16px;line-height:19.2px;color:#e4e7f4;letter-spacing:-0.026px;">Operations moved from</div>
<div class="t" style="left:1627.6px;top:1541.9px;font-size:16px;line-height:19.2px;color:#e4e7f4;letter-spacing:0.071px;">“single victim” → <b>to vendor/</b></div>
<div class="t" style="left:1627.6px;top:1560.5px;font-size:16px;line-height:19.2px;color:#e4e7f4;letter-spacing:-0.473px;"><b>MSP-scale extortion</b></div>
<div class="t" style="left:1627.6px;top:1608.4px;font-size:16px;line-height:19.2px;color:#e4e7f4;letter-spacing:-0.128px;">AI-assisted ransomware</div>
<div class="t" style="left:1627.6px;top:1626.9px;font-size:16px;line-height:19.2px;color:#e4e7f4;letter-spacing:-0.058px;">moved from experimental</div>
<div class="t" style="left:1627.6px;top:1645.4px;font-size:16px;line-height:19.2px;color:#e4e7f4;letter-spacing:-0.190px;">→ <b>to affiliate-ready</b></div>
<div class="t" style="left:1913.0px;top:1463.1px;font-size:26.6px;line-height:31.92px;color:#f4f5fa;letter-spacing:0.711px;">Advanced Persistent Threats</div>
<div class="r" style="left:1910.7px;top:1506.0px;width:182.3px;height:169.5px;background:#161d3a;border-radius:14px;"></div>
<div class="r" style="left:2098.8px;top:1506.0px;width:181.8px;height:169.5px;background:#161d3a;border-radius:14px;"></div>
<div class="r" style="left:2285.6px;top:1506.0px;width:182.4px;height:169.5px;background:#161d3a;border-radius:14px;"></div>
<svg style="position:absolute;left:1926px;top:1520px" width="40" height="44"><path d="M19 2.5 A6.5 6.5 0 1 1 18.99 2.5Z" fill="none" stroke="#2d48ff" stroke-width="3.2" stroke-linejoin="round" stroke-linecap="round" /><path d="M19 2.5 A6.5 6.5 0 1 1 18.99 2.5Z" fill="none" stroke="#93a3ff" stroke-width="0.9" opacity="0.6" stroke-linejoin="round" /><path d="M4 38.5 V30 Q4 23 11 23 Q14 23 19 28 Q24 23 27 23 Q34 23 34 30 V38.5 Z" fill="none" stroke="#2d48ff" stroke-width="3.2" stroke-linejoin="round" stroke-linecap="round" /><path d="M4 38.5 V30 Q4 23 11 23 Q14 23 19 28 Q24 23 27 23 Q34 23 34 30 V38.5 Z" fill="none" stroke="#93a3ff" stroke-width="0.9" opacity="0.6" stroke-linejoin="round" /></svg><svg style="position:absolute;left:2112px;top:1521px" width="40" height="44"><path d="M4 6 Q4 3 7 3 H33 Q36 3 36 6 V22 Q36 25 33 25 H12 L3 35 Z" fill="none" stroke="#2d48ff" stroke-width="3.2" stroke-linejoin="round" stroke-linecap="round" /><path d="M4 6 Q4 3 7 3 H33 Q36 3 36 6 V22 Q36 25 33 25 H12 L3 35 Z" fill="none" stroke="#93a3ff" stroke-width="0.9" opacity="0.6" stroke-linejoin="round" /><rect x="18.3" y="7.5" width="3" height="8.5" rx="1" fill="#6f80ff"/><rect x="18.3" y="18.3" width="3" height="3" rx="1" fill="#6f80ff"/></svg><svg style="position:absolute;left:2297px;top:1518px" width="42" height="44"><path d="M20.5 3 L37.5 12.5 V31.5 L20.5 41 L3.5 31.5 V12.5 Z" fill="none" stroke="#2d48ff" stroke-width="3.4" stroke-linejoin="round" stroke-linecap="round" /><path d="M20.5 3 L37.5 12.5 V31.5 L20.5 41 L3.5 31.5 V12.5 Z" fill="none" stroke="#93a3ff" stroke-width="0.9" opacity="0.6" stroke-linejoin="round" /></svg><div class="t" style="left:1926.0px;top:1584.0px;font-size:15.2px;line-height:18.24px;color:#e4e7f4;letter-spacing:0.486px;">Identity simulation</div>
<div class="t" style="left:1926.0px;top:1602.5px;font-size:15.2px;line-height:18.24px;color:#e4e7f4;letter-spacing:0.448px;">enables stealthy</div>
<div class="t" style="left:1926.0px;top:1620.9px;font-size:15.2px;line-height:18.24px;color:#e4e7f4;letter-spacing:0.393px;">access and hybrid</div>
<div class="t" style="left:1926.0px;top:1639.4px;font-size:15.2px;line-height:18.24px;color:#e4e7f4;letter-spacing:0.648px;">espionage-for-profit</div>
<div class="t" style="left:2113.6px;top:1584.0px;font-size:15.2px;line-height:18.24px;color:#e4e7f4;letter-spacing:0.645px;">Attribution is</div>
<div class="t" style="left:2113.6px;top:1602.5px;font-size:15.2px;line-height:18.24px;color:#e4e7f4;letter-spacing:0.337px;">increasingly used as</div>
<div class="t" style="left:2113.6px;top:1620.9px;font-size:15.2px;line-height:18.24px;color:#e4e7f4;letter-spacing:0.407px;">political signaling, not</div>
<div class="t" style="left:2113.6px;top:1639.4px;font-size:15.2px;line-height:18.24px;color:#e4e7f4;letter-spacing:0.470px;">purely forensics</div>
<div class="t" style="left:2300.5px;top:1565.9px;font-size:15.2px;line-height:18.24px;color:#e4e7f4;letter-spacing:0.526px;">Nation-state groups</div>
<div class="t" style="left:2300.5px;top:1584.4px;font-size:15.2px;line-height:18.24px;color:#e4e7f4;letter-spacing:0.319px;">increasingly mix</div>
<div class="t" style="left:2300.5px;top:1602.8px;font-size:15.2px;line-height:18.24px;color:#e4e7f4;letter-spacing:0.455px;">espionage with</div>
<div class="t" style="left:2300.5px;top:1621.3px;font-size:15.2px;line-height:18.24px;color:#e4e7f4;letter-spacing:0.371px;">financial gain and</div>
<div class="t" style="left:2300.5px;top:1639.7px;font-size:15.2px;line-height:18.24px;color:#e4e7f4;letter-spacing:0.576px;">strategic disruption</div>
</body></html>
